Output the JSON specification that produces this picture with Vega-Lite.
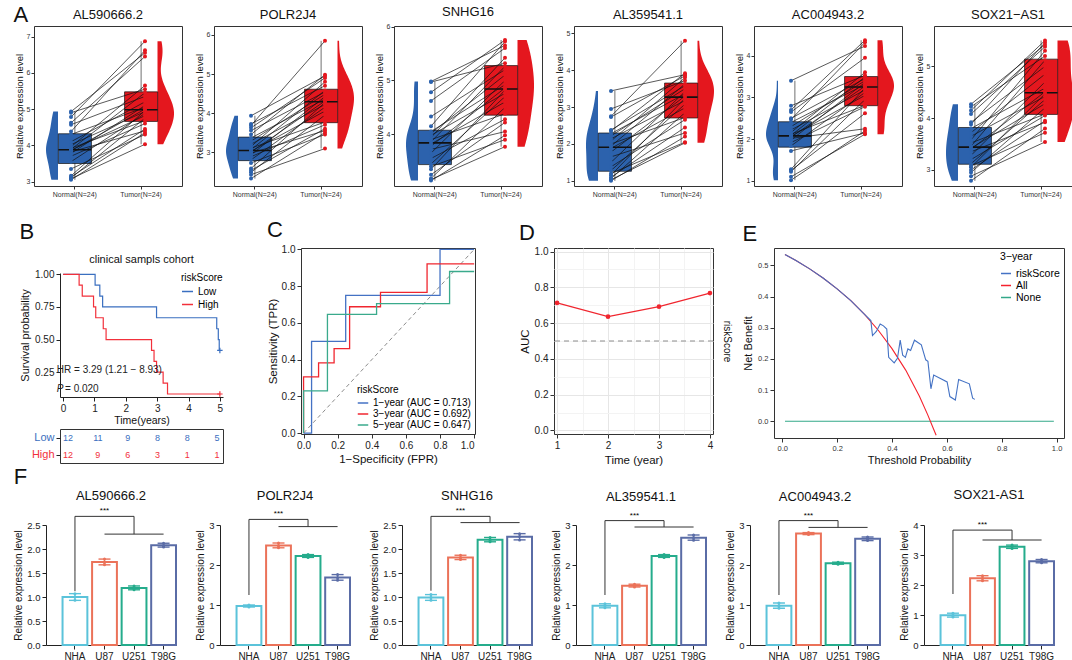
{
"$schema":"https://vega.github.io/schema/vega-lite/v6.json",
"padding":{"left":6,"top":4,"right":2,"bottom":2},
"background":"white",
"config":{"font":"Liberation Sans","view":{"stroke":"#333","strokeWidth":1},
"axis":{"grid":false,"domain":false,"labelOverlap":false,"tickColor":"#333","labelColor":"#333","titleColor":"#111","titleFontWeight":"normal","labelFont":"Liberation Sans","titleFont":"Liberation Sans"},
"title":{"fontWeight":"normal","fontSize":13,"font":"Liberation Sans","color":"#111","offset":4},
"legend":{"titleFontWeight":"normal","labelFont":"Liberation Sans","titleFont":"Liberation Sans"},
"text":{"font":"Liberation Sans"}},
"datasets":{
"pairs":[
{"g":"AL590666.2","id":1,"Normal":3.05,"Tumor":4.35},{"g":"AL590666.2","id":2,"Normal":3.08,"Tumor":4.03},{"g":"AL590666.2","id":3,"Normal":3.10,"Tumor":4.75},{"g":"AL590666.2","id":4,"Normal":3.13,"Tumor":4.45},{"g":"AL590666.2","id":5,"Normal":3.16,"Tumor":4.96},{"g":"AL590666.2","id":6,"Normal":3.35,"Tumor":4.30},{"g":"AL590666.2","id":7,"Normal":3.55,"Tumor":4.88},{"g":"AL590666.2","id":8,"Normal":3.70,"Tumor":4.60},{"g":"AL590666.2","id":9,"Normal":3.78,"Tumor":5.10},{"g":"AL590666.2","id":10,"Normal":3.82,"Tumor":4.40},{"g":"AL590666.2","id":11,"Normal":3.85,"Tumor":5.00},{"g":"AL590666.2","id":12,"Normal":3.87,"Tumor":4.82},{"g":"AL590666.2","id":13,"Normal":3.89,"Tumor":5.45},{"g":"AL590666.2","id":14,"Normal":3.92,"Tumor":4.68},{"g":"AL590666.2","id":15,"Normal":3.96,"Tumor":5.65},{"g":"AL590666.2","id":16,"Normal":4.02,"Tumor":4.93},{"g":"AL590666.2","id":17,"Normal":4.10,"Tumor":5.20},{"g":"AL590666.2","id":18,"Normal":4.30,"Tumor":5.05},{"g":"AL590666.2","id":19,"Normal":4.38,"Tumor":6.62},{"g":"AL590666.2","id":20,"Normal":4.57,"Tumor":5.35},{"g":"AL590666.2","id":21,"Normal":4.62,"Tumor":6.45},{"g":"AL590666.2","id":22,"Normal":4.78,"Tumor":6.87},{"g":"AL590666.2","id":23,"Normal":4.90,"Tumor":5.55},{"g":"AL590666.2","id":24,"Normal":4.93,"Tumor":6.55},
{"g":"POLR2J4","id":1,"Normal":2.32,"Tumor":3.50},{"g":"POLR2J4","id":2,"Normal":2.42,"Tumor":3.09},{"g":"POLR2J4","id":3,"Normal":2.48,"Tumor":3.95},{"g":"POLR2J4","id":4,"Normal":2.53,"Tumor":3.60},{"g":"POLR2J4","id":5,"Normal":2.58,"Tumor":4.27},{"g":"POLR2J4","id":6,"Normal":2.72,"Tumor":3.45},{"g":"POLR2J4","id":7,"Normal":2.80,"Tumor":4.15},{"g":"POLR2J4","id":8,"Normal":2.88,"Tumor":3.70},{"g":"POLR2J4","id":9,"Normal":2.93,"Tumor":4.42},{"g":"POLR2J4","id":10,"Normal":2.97,"Tumor":3.55},{"g":"POLR2J4","id":11,"Normal":3.00,"Tumor":4.31},{"g":"POLR2J4","id":12,"Normal":3.02,"Tumor":4.05},{"g":"POLR2J4","id":13,"Normal":3.06,"Tumor":4.58},{"g":"POLR2J4","id":14,"Normal":3.10,"Tumor":3.77},{"g":"POLR2J4","id":15,"Normal":3.14,"Tumor":4.80},{"g":"POLR2J4","id":16,"Normal":3.20,"Tumor":4.22},{"g":"POLR2J4","id":17,"Normal":3.28,"Tumor":4.48},{"g":"POLR2J4","id":18,"Normal":3.36,"Tumor":4.36},{"g":"POLR2J4","id":19,"Normal":3.45,"Tumor":4.98},{"g":"POLR2J4","id":20,"Normal":3.55,"Tumor":4.54},{"g":"POLR2J4","id":21,"Normal":3.62,"Tumor":4.90},{"g":"POLR2J4","id":22,"Normal":3.68,"Tumor":5.85},{"g":"POLR2J4","id":23,"Normal":3.72,"Tumor":4.70},{"g":"POLR2J4","id":24,"Normal":3.93,"Tumor":4.95},
{"g":"SNHG16","id":1,"Normal":3.14,"Tumor":3.98},{"g":"SNHG16","id":2,"Normal":3.16,"Tumor":3.77},{"g":"SNHG16","id":3,"Normal":3.18,"Tumor":4.50},{"g":"SNHG16","id":4,"Normal":3.25,"Tumor":4.22},{"g":"SNHG16","id":5,"Normal":3.35,"Tumor":4.82},{"g":"SNHG16","id":6,"Normal":3.40,"Tumor":3.90},{"g":"SNHG16","id":7,"Normal":3.45,"Tumor":4.70},{"g":"SNHG16","id":8,"Normal":3.55,"Tumor":4.28},{"g":"SNHG16","id":9,"Normal":3.65,"Tumor":5.00},{"g":"SNHG16","id":10,"Normal":3.72,"Tumor":4.05},{"g":"SNHG16","id":11,"Normal":3.78,"Tumor":4.86},{"g":"SNHG16","id":12,"Normal":3.82,"Tumor":4.60},{"g":"SNHG16","id":13,"Normal":3.86,"Tumor":5.26},{"g":"SNHG16","id":14,"Normal":3.90,"Tumor":4.38},{"g":"SNHG16","id":15,"Normal":3.94,"Tumor":5.42},{"g":"SNHG16","id":16,"Normal":3.98,"Tumor":4.76},{"g":"SNHG16","id":17,"Normal":4.02,"Tumor":5.10},{"g":"SNHG16","id":18,"Normal":4.05,"Tumor":4.92},{"g":"SNHG16","id":19,"Normal":4.15,"Tumor":5.72},{"g":"SNHG16","id":20,"Normal":4.33,"Tumor":5.20},{"g":"SNHG16","id":21,"Normal":4.62,"Tumor":5.60},{"g":"SNHG16","id":22,"Normal":4.78,"Tumor":5.75},{"g":"SNHG16","id":23,"Normal":4.97,"Tumor":5.32},{"g":"SNHG16","id":24,"Normal":4.98,"Tumor":5.65},
{"g":"AL359541.1","id":1,"Normal":1.00,"Tumor":2.20},{"g":"AL359541.1","id":2,"Normal":1.03,"Tumor":2.03},{"g":"AL359541.1","id":3,"Normal":1.06,"Tumor":2.85},{"g":"AL359541.1","id":4,"Normal":1.10,"Tumor":2.45},{"g":"AL359541.1","id":5,"Normal":1.15,"Tumor":3.24},{"g":"AL359541.1","id":6,"Normal":1.20,"Tumor":2.05},{"g":"AL359541.1","id":7,"Normal":1.28,"Tumor":3.08},{"g":"AL359541.1","id":8,"Normal":1.38,"Tumor":2.66},{"g":"AL359541.1","id":9,"Normal":1.50,"Tumor":3.42},{"g":"AL359541.1","id":10,"Normal":1.65,"Tumor":2.30},{"g":"AL359541.1","id":11,"Normal":1.78,"Tumor":3.30},{"g":"AL359541.1","id":12,"Normal":1.88,"Tumor":2.98},{"g":"AL359541.1","id":13,"Normal":1.94,"Tumor":3.63},{"g":"AL359541.1","id":14,"Normal":2.00,"Tumor":2.72},{"g":"AL359541.1","id":15,"Normal":2.08,"Tumor":3.80},{"g":"AL359541.1","id":16,"Normal":2.14,"Tumor":3.18},{"g":"AL359541.1","id":17,"Normal":2.22,"Tumor":3.50},{"g":"AL359541.1","id":18,"Normal":2.28,"Tumor":3.36},{"g":"AL359541.1","id":19,"Normal":2.35,"Tumor":3.92},{"g":"AL359541.1","id":20,"Normal":2.38,"Tumor":3.58},{"g":"AL359541.1","id":21,"Normal":2.73,"Tumor":3.85},{"g":"AL359541.1","id":22,"Normal":2.75,"Tumor":4.80},{"g":"AL359541.1","id":23,"Normal":2.95,"Tumor":3.72},{"g":"AL359541.1","id":24,"Normal":3.44,"Tumor":3.88},
{"g":"AC004943.2","id":1,"Normal":1.02,"Tumor":2.20},{"g":"AC004943.2","id":2,"Normal":1.10,"Tumor":2.12},{"g":"AC004943.2","id":3,"Normal":1.22,"Tumor":2.95},{"g":"AC004943.2","id":4,"Normal":1.25,"Tumor":2.62},{"g":"AC004943.2","id":5,"Normal":1.28,"Tumor":3.23},{"g":"AC004943.2","id":6,"Normal":1.72,"Tumor":2.15},{"g":"AC004943.2","id":7,"Normal":1.84,"Tumor":3.12},{"g":"AC004943.2","id":8,"Normal":1.92,"Tumor":2.78},{"g":"AC004943.2","id":9,"Normal":1.98,"Tumor":3.36},{"g":"AC004943.2","id":10,"Normal":2.02,"Tumor":2.25},{"g":"AC004943.2","id":11,"Normal":2.05,"Tumor":3.27},{"g":"AC004943.2","id":12,"Normal":2.07,"Tumor":3.05},{"g":"AC004943.2","id":13,"Normal":2.09,"Tumor":3.49},{"g":"AC004943.2","id":14,"Normal":2.12,"Tumor":2.81},{"g":"AC004943.2","id":15,"Normal":2.16,"Tumor":3.60},{"g":"AC004943.2","id":16,"Normal":2.22,"Tumor":3.18},{"g":"AC004943.2","id":17,"Normal":2.30,"Tumor":3.40},{"g":"AC004943.2","id":18,"Normal":2.40,"Tumor":3.31},{"g":"AC004943.2","id":19,"Normal":2.47,"Tumor":4.32},{"g":"AC004943.2","id":20,"Normal":2.50,"Tumor":3.45},{"g":"AC004943.2","id":21,"Normal":2.65,"Tumor":3.95},{"g":"AC004943.2","id":22,"Normal":2.70,"Tumor":4.37},{"g":"AC004943.2","id":23,"Normal":2.80,"Tumor":3.53},{"g":"AC004943.2","id":24,"Normal":3.40,"Tumor":4.23},
{"g":"SOX21-AS1","id":1,"Normal":2.79,"Tumor":3.80},{"g":"SOX21-AS1","id":2,"Normal":2.88,"Tumor":3.54},{"g":"SOX21-AS1","id":3,"Normal":2.95,"Tumor":4.20},{"g":"SOX21-AS1","id":4,"Normal":3.00,"Tumor":3.95},{"g":"SOX21-AS1","id":5,"Normal":3.05,"Tumor":4.47},{"g":"SOX21-AS1","id":6,"Normal":3.08,"Tumor":3.72},{"g":"SOX21-AS1","id":7,"Normal":3.12,"Tumor":4.36},{"g":"SOX21-AS1","id":8,"Normal":3.20,"Tumor":4.05},{"g":"SOX21-AS1","id":9,"Normal":3.28,"Tumor":4.70},{"g":"SOX21-AS1","id":10,"Normal":3.35,"Tumor":3.92},{"g":"SOX21-AS1","id":11,"Normal":3.40,"Tumor":4.51},{"g":"SOX21-AS1","id":12,"Normal":3.42,"Tumor":4.28},{"g":"SOX21-AS1","id":13,"Normal":3.46,"Tumor":5.12},{"g":"SOX21-AS1","id":14,"Normal":3.52,"Tumor":4.08},{"g":"SOX21-AS1","id":15,"Normal":3.58,"Tumor":5.30},{"g":"SOX21-AS1","id":16,"Normal":3.65,"Tumor":4.42},{"g":"SOX21-AS1","id":17,"Normal":3.72,"Tumor":4.85},{"g":"SOX21-AS1","id":18,"Normal":3.80,"Tumor":4.58},{"g":"SOX21-AS1","id":19,"Normal":3.88,"Tumor":5.46},{"g":"SOX21-AS1","id":20,"Normal":3.92,"Tumor":5.00},{"g":"SOX21-AS1","id":21,"Normal":4.08,"Tumor":5.38},{"g":"SOX21-AS1","id":22,"Normal":4.15,"Tumor":5.50},{"g":"SOX21-AS1","id":23,"Normal":4.22,"Tumor":5.20},{"g":"SOX21-AS1","id":24,"Normal":4.27,"Tumor":5.42}
],
"km":[
{"risk":"Low","t":0,"s":1},{"risk":"Low","t":1.02,"s":0.917},{"risk":"Low","t":1.17,"s":0.833},{"risk":"Low","t":1.26,"s":0.75},{"risk":"Low","t":2.98,"s":0.667},{"risk":"Low","t":4.9,"s":0.583},{"risk":"Low","t":4.95,"s":0.5},{"risk":"Low","t":4.98,"s":0.417},{"risk":"Low","t":5.0,"s":0.417},
{"risk":"High","t":0,"s":1},{"risk":"High","t":0.51,"s":0.917},{"risk":"High","t":0.61,"s":0.833},{"risk":"High","t":0.97,"s":0.75},{"risk":"High","t":1.04,"s":0.667},{"risk":"High","t":1.28,"s":0.583},{"risk":"High","t":1.37,"s":0.5},{"risk":"High","t":2.82,"s":0.417},{"risk":"High","t":2.9,"s":0.333},{"risk":"High","t":2.98,"s":0.25},{"risk":"High","t":3.19,"s":0.167},{"risk":"High","t":3.33,"s":0.083},{"risk":"High","t":5.0,"s":0.083}
],
"kmc":[{"risk":"Low","t":5.0,"s":0.417},{"risk":"High","t":5.0,"s":0.083}],
"risk":[
{"risk":"Low","t":0,"n":12},{"risk":"Low","t":1,"n":11},{"risk":"Low","t":2,"n":9},{"risk":"Low","t":3,"n":8},{"risk":"Low","t":4,"n":8},{"risk":"Low","t":5,"n":5},
{"risk":"High","t":0,"n":12},{"risk":"High","t":1,"n":9},{"risk":"High","t":2,"n":6},{"risk":"High","t":3,"n":3},{"risk":"High","t":4,"n":1},{"risk":"High","t":5,"n":1}
],
"roc":[
{"curve":"1−year (AUC = 0.713)","k":0,"fpr":0,"tpr":0},{"curve":"1−year (AUC = 0.713)","k":1,"fpr":0.047,"tpr":0},{"curve":"1−year (AUC = 0.713)","k":2,"fpr":0.047,"tpr":0.5},{"curve":"1−year (AUC = 0.713)","k":3,"fpr":0.247,"tpr":0.5},{"curve":"1−year (AUC = 0.713)","k":4,"fpr":0.247,"tpr":0.75},{"curve":"1−year (AUC = 0.713)","k":5,"fpr":0.8,"tpr":0.75},{"curve":"1−year (AUC = 0.713)","k":6,"fpr":0.8,"tpr":1},{"curve":"1−year (AUC = 0.713)","k":7,"fpr":1,"tpr":1},
{"curve":"3−year (AUC = 0.692)","k":0,"fpr":0,"tpr":0},{"curve":"3−year (AUC = 0.692)","k":1,"fpr":0,"tpr":0.306},{"curve":"3−year (AUC = 0.692)","k":2,"fpr":0.088,"tpr":0.306},{"curve":"3−year (AUC = 0.692)","k":3,"fpr":0.088,"tpr":0.382},{"curve":"3−year (AUC = 0.692)","k":4,"fpr":0.179,"tpr":0.382},{"curve":"3−year (AUC = 0.692)","k":5,"fpr":0.179,"tpr":0.46},{"curve":"3−year (AUC = 0.692)","k":6,"fpr":0.27,"tpr":0.46},{"curve":"3−year (AUC = 0.692)","k":7,"fpr":0.27,"tpr":0.688},{"curve":"3−year (AUC = 0.692)","k":8,"fpr":0.451,"tpr":0.688},{"curve":"3−year (AUC = 0.692)","k":9,"fpr":0.451,"tpr":0.766},{"curve":"3−year (AUC = 0.692)","k":10,"fpr":0.724,"tpr":0.766},{"curve":"3−year (AUC = 0.692)","k":11,"fpr":0.724,"tpr":0.922},{"curve":"3−year (AUC = 0.692)","k":12,"fpr":1,"tpr":0.922},
{"curve":"5−year (AUC = 0.647)","k":0,"fpr":0,"tpr":0},{"curve":"5−year (AUC = 0.647)","k":1,"fpr":0,"tpr":0.23},{"curve":"5−year (AUC = 0.647)","k":2,"fpr":0.14,"tpr":0.23},{"curve":"5−year (AUC = 0.647)","k":3,"fpr":0.14,"tpr":0.647},{"curve":"5−year (AUC = 0.647)","k":4,"fpr":0.428,"tpr":0.647},{"curve":"5−year (AUC = 0.647)","k":5,"fpr":0.428,"tpr":0.705},{"curve":"5−year (AUC = 0.647)","k":6,"fpr":0.856,"tpr":0.705},{"curve":"5−year (AUC = 0.647)","k":7,"fpr":0.856,"tpr":0.88},{"curve":"5−year (AUC = 0.647)","k":8,"fpr":1,"tpr":0.88}
],
"auc":[{"t":1,"auc":0.713},{"t":2,"auc":0.636},{"t":3,"auc":0.692},{"t":4,"auc":0.768}],
"dca":[
{"model":"None","x":0.01,"y":0},{"model":"None","x":0.99,"y":0},
{"model":"All","x":0.01,"y":0.535},{"model":"All","x":0.05,"y":0.516},{"model":"All","x":0.10,"y":0.489},{"model":"All","x":0.15,"y":0.459},{"model":"All","x":0.20,"y":0.425},{"model":"All","x":0.25,"y":0.387},{"model":"All","x":0.30,"y":0.343},{"model":"All","x":0.35,"y":0.292},{"model":"All","x":0.40,"y":0.233},{"model":"All","x":0.45,"y":0.164},{"model":"All","x":0.50,"y":0.080},{"model":"All","x":0.53,"y":0.021},{"model":"All","x":0.55,"y":-0.022},{"model":"All","x":0.561,"y":-0.045},
{"model":"riskScore","x":0.01,"y":0.535},{"model":"riskScore","x":0.05,"y":0.516},{"model":"riskScore","x":0.10,"y":0.489},{"model":"riskScore","x":0.15,"y":0.459},{"model":"riskScore","x":0.20,"y":0.425},{"model":"riskScore","x":0.25,"y":0.387},{"model":"riskScore","x":0.30,"y":0.343},{"model":"riskScore","x":0.323,"y":0.323},{"model":"riskScore","x":0.329,"y":0.275},{"model":"riskScore","x":0.343,"y":0.288},{"model":"riskScore","x":0.357,"y":0.312},{"model":"riskScore","x":0.369,"y":0.306},{"model":"riskScore","x":0.381,"y":0.296},{"model":"riskScore","x":0.388,"y":0.205},{"model":"riskScore","x":0.408,"y":0.187},{"model":"riskScore","x":0.42,"y":0.202},{"model":"riskScore","x":0.43,"y":0.26},{"model":"riskScore","x":0.439,"y":0.212},{"model":"riskScore","x":0.449,"y":0.205},{"model":"riskScore","x":0.458,"y":0.232},{"model":"riskScore","x":0.468,"y":0.227},{"model":"riskScore","x":0.482,"y":0.26},{"model":"riskScore","x":0.507,"y":0.245},{"model":"riskScore","x":0.523,"y":0.197},{"model":"riskScore","x":0.531,"y":0.192},{"model":"riskScore","x":0.542,"y":0.104},{"model":"riskScore","x":0.552,"y":0.148},{"model":"riskScore","x":0.601,"y":0.126},{"model":"riskScore","x":0.611,"y":0.079},{"model":"riskScore","x":0.631,"y":0.068},{"model":"riskScore","x":0.643,"y":0.134},{"model":"riskScore","x":0.682,"y":0.12},{"model":"riskScore","x":0.694,"y":0.074},{"model":"riskScore","x":0.702,"y":0.07}
],
"cells":[
{"g":"AL590666.2","cell":"NHA","v":0.93},{"g":"AL590666.2","cell":"NHA","v":1.00},{"g":"AL590666.2","cell":"NHA","v":1.07},{"g":"AL590666.2","cell":"U87","v":1.67},{"g":"AL590666.2","cell":"U87","v":1.72},{"g":"AL590666.2","cell":"U87","v":1.79},{"g":"AL590666.2","cell":"U251","v":1.15},{"g":"AL590666.2","cell":"U251","v":1.18},{"g":"AL590666.2","cell":"U251","v":1.23},{"g":"AL590666.2","cell":"T98G","v":2.04},{"g":"AL590666.2","cell":"T98G","v":2.07},{"g":"AL590666.2","cell":"T98G","v":2.12},
{"g":"POLR2J4","cell":"NHA","v":0.95},{"g":"POLR2J4","cell":"NHA","v":0.98},{"g":"POLR2J4","cell":"NHA","v":1.00},{"g":"POLR2J4","cell":"U87","v":2.43},{"g":"POLR2J4","cell":"U87","v":2.48},{"g":"POLR2J4","cell":"U87","v":2.55},{"g":"POLR2J4","cell":"U251","v":2.19},{"g":"POLR2J4","cell":"U251","v":2.23},{"g":"POLR2J4","cell":"U251","v":2.26},{"g":"POLR2J4","cell":"T98G","v":1.62},{"g":"POLR2J4","cell":"T98G","v":1.68},{"g":"POLR2J4","cell":"T98G","v":1.76},
{"g":"SNHG16","cell":"NHA","v":0.93},{"g":"SNHG16","cell":"NHA","v":0.99},{"g":"SNHG16","cell":"NHA","v":1.05},{"g":"SNHG16","cell":"U87","v":1.78},{"g":"SNHG16","cell":"U87","v":1.82},{"g":"SNHG16","cell":"U87","v":1.87},{"g":"SNHG16","cell":"U251","v":2.15},{"g":"SNHG16","cell":"U251","v":2.19},{"g":"SNHG16","cell":"U251","v":2.24},{"g":"SNHG16","cell":"T98G","v":2.19},{"g":"SNHG16","cell":"T98G","v":2.26},{"g":"SNHG16","cell":"T98G","v":2.32},
{"g":"AL359541.1","cell":"NHA","v":0.93},{"g":"AL359541.1","cell":"NHA","v":0.98},{"g":"AL359541.1","cell":"NHA","v":1.03},{"g":"AL359541.1","cell":"U87","v":1.45},{"g":"AL359541.1","cell":"U87","v":1.48},{"g":"AL359541.1","cell":"U87","v":1.52},{"g":"AL359541.1","cell":"U251","v":2.19},{"g":"AL359541.1","cell":"U251","v":2.22},{"g":"AL359541.1","cell":"U251","v":2.26},{"g":"AL359541.1","cell":"T98G","v":2.62},{"g":"AL359541.1","cell":"T98G","v":2.68},{"g":"AL359541.1","cell":"T98G","v":2.75},
{"g":"AC004943.2","cell":"NHA","v":0.92},{"g":"AC004943.2","cell":"NHA","v":0.98},{"g":"AC004943.2","cell":"NHA","v":1.05},{"g":"AC004943.2","cell":"U87","v":2.76},{"g":"AC004943.2","cell":"U87","v":2.79},{"g":"AC004943.2","cell":"U87","v":2.81},{"g":"AC004943.2","cell":"U251","v":2.02},{"g":"AC004943.2","cell":"U251","v":2.04},{"g":"AC004943.2","cell":"U251","v":2.07},{"g":"AC004943.2","cell":"T98G","v":2.61},{"g":"AC004943.2","cell":"T98G","v":2.65},{"g":"AC004943.2","cell":"T98G","v":2.70},
{"g":"SOX21-AS1","cell":"NHA","v":0.93},{"g":"SOX21-AS1","cell":"NHA","v":0.98},{"g":"SOX21-AS1","cell":"NHA","v":1.06},{"g":"SOX21-AS1","cell":"U87","v":2.14},{"g":"SOX21-AS1","cell":"U87","v":2.22},{"g":"SOX21-AS1","cell":"U87","v":2.31},{"g":"SOX21-AS1","cell":"U251","v":3.22},{"g":"SOX21-AS1","cell":"U251","v":3.28},{"g":"SOX21-AS1","cell":"U251","v":3.33},{"g":"SOX21-AS1","cell":"T98G","v":2.74},{"g":"SOX21-AS1","cell":"T98G","v":2.79},{"g":"SOX21-AS1","cell":"T98G","v":2.85}
]
},
"spacing":20,
"resolve":{"scale":{"color":"independent","stroke":"independent"}},
"vconcat":[
{"spacing":0,
"hconcat":[
{"width":1,"height":1,"data":{"values":[{}]},"mark":{"type":"point","opacity":0},"view":{"stroke":null}},
{"title":{"text":"A","anchor":"start","fontSize":22,"offset":-22},
"spacing":10,
"hconcat":[
{"width":148,"height":160,"title":{"text":"AL590666.2"},"data":{"name":"pairs"},
"transform":[{"filter":{"field":"g","equal":"AL590666.2"}},{"fold":["Normal","Tumor"],"as":["grp","value"]}],
"encoding":{"y":{"field":"value","type":"quantitative","scale":{"domain":[2.88,7.29],"nice":false,"zero":false},"axis":{"title":"Relative expression level","values":[3,4,5,6,7],"labelFontSize":7,"titleFontSize":9.5,"titlePadding":2,"labelPadding":1,"tickSize":3}}},
"layer":[
{"transform":[{"filter":{"field":"grp","equal":"Normal"}},{"density":"value","as":["value","density"]}],"mark":{"type":"area","orient":"horizontal","color":"#2C62AD"},"encoding":{"x":{"field":"density","type":"quantitative","stack":null,"scale":{"range":[24,12],"zero":true,"nice":false},"axis":null}}},
{"transform":[{"filter":{"field":"grp","equal":"Tumor"}},{"density":"value","as":["value","density"]}],"mark":{"type":"area","orient":"horizontal","color":"#E4171E"},"encoding":{"x":{"field":"density","type":"quantitative","stack":null,"scale":{"range":[123.5,140],"zero":true,"nice":false},"axis":null}}},
{"mark":{"type":"rule","color":"#111","strokeWidth":0.6},"encoding":{"x":{"field":"grp","type":"nominal","scale":{"domain":["Normal","Tumor"],"paddingInner":0.5,"paddingOuter":0.367},"axis":null},"y":{"aggregate":"min","field":"value","type":"quantitative"},"y2":{"aggregate":"max","field":"value"}}},
{"mark":{"type":"bar","stroke":"#111","strokeWidth":0.7},"encoding":{"x":{"field":"grp","type":"nominal","scale":{"domain":["Normal","Tumor"],"paddingInner":0.5,"paddingOuter":0.367},"axis":{"title":null,"labelExpr":"datum.label + '(N=24)'","labelAngle":0,"labelFontSize":7,"tickSize":3,"labelPadding":1}},"y":{"aggregate":"q1","field":"value","type":"quantitative"},"y2":{"aggregate":"q3","field":"value"},"color":{"field":"grp","type":"nominal","scale":{"domain":["Normal","Tumor"],"range":["#2C62AD","#E4171E"]},"legend":null}}},
{"mark":{"type":"tick","color":"#111","thickness":1.6,"size":33},"encoding":{"x":{"field":"grp","type":"nominal","scale":{"domain":["Normal","Tumor"],"paddingInner":0.5,"paddingOuter":0.367},"axis":null},"y":{"aggregate":"median","field":"value","type":"quantitative"}}},
{"mark":{"type":"line","color":"#111","strokeWidth":0.7},"encoding":{"x":{"field":"grp","type":"nominal","scale":{"domain":["Normal","Tumor"],"paddingInner":0.5,"paddingOuter":0.367},"axis":null},"detail":{"field":"id","type":"nominal"}}},
{"mark":{"type":"circle","size":16,"opacity":1},"encoding":{"x":{"field":"grp","type":"nominal","scale":{"domain":["Normal","Tumor"],"paddingInner":0.5,"paddingOuter":0.367},"axis":null},"color":{"field":"grp","type":"nominal","scale":{"domain":["Normal","Tumor"],"range":["#2C62AD","#E4171E"]},"legend":null}}},
{"data":{"values":[{}]},"mark":{"type":"rule","color":"#111","strokeWidth":0.6},"encoding":{"x":{"datum":"Normal","type":"nominal","scale":{"domain":["Normal","Tumor"],"paddingInner":0.5,"paddingOuter":0.367},"axis":null},"x2":{"datum":"Tumor"},"y":{"datum":7.0,"type":"quantitative"}}},
{"data":{"values":[{"k":"Normal"},{"k":"Tumor"}]},"mark":{"type":"rule","color":"#111","strokeWidth":0.6},"encoding":{"x":{"field":"k","type":"nominal","scale":{"domain":["Normal","Tumor"],"paddingInner":0.5,"paddingOuter":0.367},"axis":null},"y":{"datum":7.0,"type":"quantitative"},"y2":{"datum":6.93}}},
{"data":{"values":[{}]},"mark":{"type":"text","text":"***","fontSize":8,"baseline":"bottom"},"encoding":{"x":{"datum":0.5,"type":"quantitative","scale":{"domain":[0,1]},"axis":null},"y":{"datum":7.0,"type":"quantitative"}}}
],
"resolve":{"scale":{"x":"independent"}}},
{"width":148,"height":160,"title":{"text":"POLR2J4"},"data":{"name":"pairs"},
"transform":[{"filter":{"field":"g","equal":"POLR2J4"}},{"fold":["Normal","Tumor"],"as":["grp","value"]}],
"encoding":{"y":{"field":"value","type":"quantitative","scale":{"domain":[2.13,6.23],"nice":false,"zero":false},"axis":{"title":"Relative expression level","values":[3,4,5,6],"labelFontSize":7,"titleFontSize":9.5,"titlePadding":2,"labelPadding":1,"tickSize":3}}},
"layer":[
{"transform":[{"filter":{"field":"grp","equal":"Normal"}},{"density":"value","as":["value","density"]}],"mark":{"type":"area","orient":"horizontal","color":"#2C62AD"},"encoding":{"x":{"field":"density","type":"quantitative","stack":null,"scale":{"range":[24,12],"zero":true,"nice":false},"axis":null}}},
{"transform":[{"filter":{"field":"grp","equal":"Tumor"}},{"density":"value","as":["value","density"]}],"mark":{"type":"area","orient":"horizontal","color":"#E4171E"},"encoding":{"x":{"field":"density","type":"quantitative","stack":null,"scale":{"range":[123.5,140],"zero":true,"nice":false},"axis":null}}},
{"mark":{"type":"rule","color":"#111","strokeWidth":0.6},"encoding":{"x":{"field":"grp","type":"nominal","scale":{"domain":["Normal","Tumor"],"paddingInner":0.5,"paddingOuter":0.367},"axis":null},"y":{"aggregate":"min","field":"value","type":"quantitative"},"y2":{"aggregate":"max","field":"value"}}},
{"mark":{"type":"bar","stroke":"#111","strokeWidth":0.7},"encoding":{"x":{"field":"grp","type":"nominal","scale":{"domain":["Normal","Tumor"],"paddingInner":0.5,"paddingOuter":0.367},"axis":{"title":null,"labelExpr":"datum.label + '(N=24)'","labelAngle":0,"labelFontSize":7,"tickSize":3,"labelPadding":1}},"y":{"aggregate":"q1","field":"value","type":"quantitative"},"y2":{"aggregate":"q3","field":"value"},"color":{"field":"grp","type":"nominal","scale":{"domain":["Normal","Tumor"],"range":["#2C62AD","#E4171E"]},"legend":null}}},
{"mark":{"type":"tick","color":"#111","thickness":1.6,"size":33},"encoding":{"x":{"field":"grp","type":"nominal","scale":{"domain":["Normal","Tumor"],"paddingInner":0.5,"paddingOuter":0.367},"axis":null},"y":{"aggregate":"median","field":"value","type":"quantitative"}}},
{"mark":{"type":"line","color":"#111","strokeWidth":0.7},"encoding":{"x":{"field":"grp","type":"nominal","scale":{"domain":["Normal","Tumor"],"paddingInner":0.5,"paddingOuter":0.367},"axis":null},"detail":{"field":"id","type":"nominal"}}},
{"mark":{"type":"circle","size":16,"opacity":1},"encoding":{"x":{"field":"grp","type":"nominal","scale":{"domain":["Normal","Tumor"],"paddingInner":0.5,"paddingOuter":0.367},"axis":null},"color":{"field":"grp","type":"nominal","scale":{"domain":["Normal","Tumor"],"range":["#2C62AD","#E4171E"]},"legend":null}}},
{"data":{"values":[{}]},"mark":{"type":"rule","color":"#111","strokeWidth":0.6},"encoding":{"x":{"datum":"Normal","type":"nominal","scale":{"domain":["Normal","Tumor"],"paddingInner":0.5,"paddingOuter":0.367},"axis":null},"x2":{"datum":"Tumor"},"y":{"datum":5.96,"type":"quantitative"}}},
{"data":{"values":[{"k":"Normal"},{"k":"Tumor"}]},"mark":{"type":"rule","color":"#111","strokeWidth":0.6},"encoding":{"x":{"field":"k","type":"nominal","scale":{"domain":["Normal","Tumor"],"paddingInner":0.5,"paddingOuter":0.367},"axis":null},"y":{"datum":5.96,"type":"quantitative"},"y2":{"datum":5.90}}},
{"data":{"values":[{}]},"mark":{"type":"text","text":"***","fontSize":8,"baseline":"bottom"},"encoding":{"x":{"datum":0.5,"type":"quantitative","scale":{"domain":[0,1]},"axis":null},"y":{"datum":5.96,"type":"quantitative"}}}
],
"resolve":{"scale":{"x":"independent"}}},
{"width":148,"height":160,"title":{"text":"SNHG16"},"data":{"name":"pairs"},
"transform":[{"filter":{"field":"g","equal":"SNHG16"}},{"fold":["Normal","Tumor"],"as":["grp","value"]}],
"encoding":{"y":{"field":"value","type":"quantitative","scale":{"domain":[3.04,6.01],"nice":false,"zero":false},"axis":{"title":"Relative expression level","values":[4,5,6],"labelFontSize":7,"titleFontSize":9.5,"titlePadding":2,"labelPadding":1,"tickSize":3}}},
"layer":[
{"transform":[{"filter":{"field":"grp","equal":"Normal"}},{"density":"value","as":["value","density"]}],"mark":{"type":"area","orient":"horizontal","color":"#2C62AD"},"encoding":{"x":{"field":"density","type":"quantitative","stack":null,"scale":{"range":[24,12],"zero":true,"nice":false},"axis":null}}},
{"transform":[{"filter":{"field":"grp","equal":"Tumor"}},{"density":"value","as":["value","density"]}],"mark":{"type":"area","orient":"horizontal","color":"#E4171E"},"encoding":{"x":{"field":"density","type":"quantitative","stack":null,"scale":{"range":[123.5,140],"zero":true,"nice":false},"axis":null}}},
{"mark":{"type":"rule","color":"#111","strokeWidth":0.6},"encoding":{"x":{"field":"grp","type":"nominal","scale":{"domain":["Normal","Tumor"],"paddingInner":0.5,"paddingOuter":0.367},"axis":null},"y":{"aggregate":"min","field":"value","type":"quantitative"},"y2":{"aggregate":"max","field":"value"}}},
{"mark":{"type":"bar","stroke":"#111","strokeWidth":0.7},"encoding":{"x":{"field":"grp","type":"nominal","scale":{"domain":["Normal","Tumor"],"paddingInner":0.5,"paddingOuter":0.367},"axis":{"title":null,"labelExpr":"datum.label + '(N=24)'","labelAngle":0,"labelFontSize":7,"tickSize":3,"labelPadding":1}},"y":{"aggregate":"q1","field":"value","type":"quantitative"},"y2":{"aggregate":"q3","field":"value"},"color":{"field":"grp","type":"nominal","scale":{"domain":["Normal","Tumor"],"range":["#2C62AD","#E4171E"]},"legend":null}}},
{"mark":{"type":"tick","color":"#111","thickness":1.6,"size":33},"encoding":{"x":{"field":"grp","type":"nominal","scale":{"domain":["Normal","Tumor"],"paddingInner":0.5,"paddingOuter":0.367},"axis":null},"y":{"aggregate":"median","field":"value","type":"quantitative"}}},
{"mark":{"type":"line","color":"#111","strokeWidth":0.7},"encoding":{"x":{"field":"grp","type":"nominal","scale":{"domain":["Normal","Tumor"],"paddingInner":0.5,"paddingOuter":0.367},"axis":null},"detail":{"field":"id","type":"nominal"}}},
{"mark":{"type":"circle","size":16,"opacity":1},"encoding":{"x":{"field":"grp","type":"nominal","scale":{"domain":["Normal","Tumor"],"paddingInner":0.5,"paddingOuter":0.367},"axis":null},"color":{"field":"grp","type":"nominal","scale":{"domain":["Normal","Tumor"],"range":["#2C62AD","#E4171E"]},"legend":null}}},
{"data":{"values":[{}]},"mark":{"type":"rule","color":"#111","strokeWidth":0.6},"encoding":{"x":{"datum":"Normal","type":"nominal","scale":{"domain":["Normal","Tumor"],"paddingInner":0.5,"paddingOuter":0.367},"axis":null},"x2":{"datum":"Tumor"},"y":{"datum":5.81,"type":"quantitative"}}},
{"data":{"values":[{"k":"Normal"},{"k":"Tumor"}]},"mark":{"type":"rule","color":"#111","strokeWidth":0.6},"encoding":{"x":{"field":"k","type":"nominal","scale":{"domain":["Normal","Tumor"],"paddingInner":0.5,"paddingOuter":0.367},"axis":null},"y":{"datum":5.81,"type":"quantitative"},"y2":{"datum":5.765}}},
{"data":{"values":[{}]},"mark":{"type":"text","text":"***","fontSize":8,"baseline":"bottom"},"encoding":{"x":{"datum":0.5,"type":"quantitative","scale":{"domain":[0,1]},"axis":null},"y":{"datum":5.81,"type":"quantitative"}}}
],
"resolve":{"scale":{"x":"independent"}}},
{"width":148,"height":160,"title":{"text":"AL359541.1"},"data":{"name":"pairs"},
"transform":[{"filter":{"field":"g","equal":"AL359541.1"}},{"fold":["Normal","Tumor"],"as":["grp","value"]}],
"encoding":{"y":{"field":"value","type":"quantitative","scale":{"domain":[0.86,5.2],"nice":false,"zero":false},"axis":{"title":"Relative expression level","values":[1,2,3,4,5],"labelFontSize":7,"titleFontSize":9.5,"titlePadding":2,"labelPadding":1,"tickSize":3}}},
"layer":[
{"transform":[{"filter":{"field":"grp","equal":"Normal"}},{"density":"value","as":["value","density"]}],"mark":{"type":"area","orient":"horizontal","color":"#2C62AD"},"encoding":{"x":{"field":"density","type":"quantitative","stack":null,"scale":{"range":[24,12],"zero":true,"nice":false},"axis":null}}},
{"transform":[{"filter":{"field":"grp","equal":"Tumor"}},{"density":"value","as":["value","density"]}],"mark":{"type":"area","orient":"horizontal","color":"#E4171E"},"encoding":{"x":{"field":"density","type":"quantitative","stack":null,"scale":{"range":[123.5,140],"zero":true,"nice":false},"axis":null}}},
{"mark":{"type":"rule","color":"#111","strokeWidth":0.6},"encoding":{"x":{"field":"grp","type":"nominal","scale":{"domain":["Normal","Tumor"],"paddingInner":0.5,"paddingOuter":0.367},"axis":null},"y":{"aggregate":"min","field":"value","type":"quantitative"},"y2":{"aggregate":"max","field":"value"}}},
{"mark":{"type":"bar","stroke":"#111","strokeWidth":0.7},"encoding":{"x":{"field":"grp","type":"nominal","scale":{"domain":["Normal","Tumor"],"paddingInner":0.5,"paddingOuter":0.367},"axis":{"title":null,"labelExpr":"datum.label + '(N=24)'","labelAngle":0,"labelFontSize":7,"tickSize":3,"labelPadding":1}},"y":{"aggregate":"q1","field":"value","type":"quantitative"},"y2":{"aggregate":"q3","field":"value"},"color":{"field":"grp","type":"nominal","scale":{"domain":["Normal","Tumor"],"range":["#2C62AD","#E4171E"]},"legend":null}}},
{"mark":{"type":"tick","color":"#111","thickness":1.6,"size":33},"encoding":{"x":{"field":"grp","type":"nominal","scale":{"domain":["Normal","Tumor"],"paddingInner":0.5,"paddingOuter":0.367},"axis":null},"y":{"aggregate":"median","field":"value","type":"quantitative"}}},
{"mark":{"type":"line","color":"#111","strokeWidth":0.7},"encoding":{"x":{"field":"grp","type":"nominal","scale":{"domain":["Normal","Tumor"],"paddingInner":0.5,"paddingOuter":0.367},"axis":null},"detail":{"field":"id","type":"nominal"}}},
{"mark":{"type":"circle","size":16,"opacity":1},"encoding":{"x":{"field":"grp","type":"nominal","scale":{"domain":["Normal","Tumor"],"paddingInner":0.5,"paddingOuter":0.367},"axis":null},"color":{"field":"grp","type":"nominal","scale":{"domain":["Normal","Tumor"],"range":["#2C62AD","#E4171E"]},"legend":null}}},
{"data":{"values":[{}]},"mark":{"type":"rule","color":"#111","strokeWidth":0.6},"encoding":{"x":{"datum":"Normal","type":"nominal","scale":{"domain":["Normal","Tumor"],"paddingInner":0.5,"paddingOuter":0.367},"axis":null},"x2":{"datum":"Tumor"},"y":{"datum":4.91,"type":"quantitative"}}},
{"data":{"values":[{"k":"Normal"},{"k":"Tumor"}]},"mark":{"type":"rule","color":"#111","strokeWidth":0.6},"encoding":{"x":{"field":"k","type":"nominal","scale":{"domain":["Normal","Tumor"],"paddingInner":0.5,"paddingOuter":0.367},"axis":null},"y":{"datum":4.91,"type":"quantitative"},"y2":{"datum":4.845}}},
{"data":{"values":[{}]},"mark":{"type":"text","text":"***","fontSize":8,"baseline":"bottom"},"encoding":{"x":{"datum":0.5,"type":"quantitative","scale":{"domain":[0,1]},"axis":null},"y":{"datum":4.91,"type":"quantitative"}}}
],
"resolve":{"scale":{"x":"independent"}}},
{"width":148,"height":160,"title":{"text":"AC004943.2"},"data":{"name":"pairs"},
"transform":[{"filter":{"field":"g","equal":"AC004943.2"}},{"fold":["Normal","Tumor"],"as":["grp","value"]}],
"encoding":{"y":{"field":"value","type":"quantitative","scale":{"domain":[0.88,4.71],"nice":false,"zero":false},"axis":{"title":"Relative expression level","values":[1,2,3,4],"labelFontSize":7,"titleFontSize":9.5,"titlePadding":2,"labelPadding":1,"tickSize":3}}},
"layer":[
{"transform":[{"filter":{"field":"grp","equal":"Normal"}},{"density":"value","as":["value","density"]}],"mark":{"type":"area","orient":"horizontal","color":"#2C62AD"},"encoding":{"x":{"field":"density","type":"quantitative","stack":null,"scale":{"range":[24,12],"zero":true,"nice":false},"axis":null}}},
{"transform":[{"filter":{"field":"grp","equal":"Tumor"}},{"density":"value","as":["value","density"]}],"mark":{"type":"area","orient":"horizontal","color":"#E4171E"},"encoding":{"x":{"field":"density","type":"quantitative","stack":null,"scale":{"range":[123.5,140],"zero":true,"nice":false},"axis":null}}},
{"mark":{"type":"rule","color":"#111","strokeWidth":0.6},"encoding":{"x":{"field":"grp","type":"nominal","scale":{"domain":["Normal","Tumor"],"paddingInner":0.5,"paddingOuter":0.367},"axis":null},"y":{"aggregate":"min","field":"value","type":"quantitative"},"y2":{"aggregate":"max","field":"value"}}},
{"mark":{"type":"bar","stroke":"#111","strokeWidth":0.7},"encoding":{"x":{"field":"grp","type":"nominal","scale":{"domain":["Normal","Tumor"],"paddingInner":0.5,"paddingOuter":0.367},"axis":{"title":null,"labelExpr":"datum.label + '(N=24)'","labelAngle":0,"labelFontSize":7,"tickSize":3,"labelPadding":1}},"y":{"aggregate":"q1","field":"value","type":"quantitative"},"y2":{"aggregate":"q3","field":"value"},"color":{"field":"grp","type":"nominal","scale":{"domain":["Normal","Tumor"],"range":["#2C62AD","#E4171E"]},"legend":null}}},
{"mark":{"type":"tick","color":"#111","thickness":1.6,"size":33},"encoding":{"x":{"field":"grp","type":"nominal","scale":{"domain":["Normal","Tumor"],"paddingInner":0.5,"paddingOuter":0.367},"axis":null},"y":{"aggregate":"median","field":"value","type":"quantitative"}}},
{"mark":{"type":"line","color":"#111","strokeWidth":0.7},"encoding":{"x":{"field":"grp","type":"nominal","scale":{"domain":["Normal","Tumor"],"paddingInner":0.5,"paddingOuter":0.367},"axis":null},"detail":{"field":"id","type":"nominal"}}},
{"mark":{"type":"circle","size":16,"opacity":1},"encoding":{"x":{"field":"grp","type":"nominal","scale":{"domain":["Normal","Tumor"],"paddingInner":0.5,"paddingOuter":0.367},"axis":null},"color":{"field":"grp","type":"nominal","scale":{"domain":["Normal","Tumor"],"range":["#2C62AD","#E4171E"]},"legend":null}}},
{"data":{"values":[{}]},"mark":{"type":"rule","color":"#111","strokeWidth":0.6},"encoding":{"x":{"datum":"Normal","type":"nominal","scale":{"domain":["Normal","Tumor"],"paddingInner":0.5,"paddingOuter":0.367},"axis":null},"x2":{"datum":"Tumor"},"y":{"datum":4.46,"type":"quantitative"}}},
{"data":{"values":[{"k":"Normal"},{"k":"Tumor"}]},"mark":{"type":"rule","color":"#111","strokeWidth":0.6},"encoding":{"x":{"field":"k","type":"nominal","scale":{"domain":["Normal","Tumor"],"paddingInner":0.5,"paddingOuter":0.367},"axis":null},"y":{"datum":4.46,"type":"quantitative"},"y2":{"datum":4.40}}},
{"data":{"values":[{}]},"mark":{"type":"text","text":"***","fontSize":8,"baseline":"bottom"},"encoding":{"x":{"datum":0.5,"type":"quantitative","scale":{"domain":[0,1]},"axis":null},"y":{"datum":4.46,"type":"quantitative"}}}
],
"resolve":{"scale":{"x":"independent"}}},
{"width":148,"height":160,"title":{"text":"SOX21−AS1"},"data":{"name":"pairs"},
"transform":[{"filter":{"field":"g","equal":"SOX21-AS1"}},{"fold":["Normal","Tumor"],"as":["grp","value"]}],
"encoding":{"y":{"field":"value","type":"quantitative","scale":{"domain":[2.69,5.78],"nice":false,"zero":false},"axis":{"title":"Relative expression level","values":[3,4,5],"labelFontSize":7,"titleFontSize":9.5,"titlePadding":2,"labelPadding":1,"tickSize":3}}},
"layer":[
{"transform":[{"filter":{"field":"grp","equal":"Normal"}},{"density":"value","as":["value","density"]}],"mark":{"type":"area","orient":"horizontal","color":"#2C62AD"},"encoding":{"x":{"field":"density","type":"quantitative","stack":null,"scale":{"range":[24,12],"zero":true,"nice":false},"axis":null}}},
{"transform":[{"filter":{"field":"grp","equal":"Tumor"}},{"density":"value","as":["value","density"]}],"mark":{"type":"area","orient":"horizontal","color":"#E4171E"},"encoding":{"x":{"field":"density","type":"quantitative","stack":null,"scale":{"range":[123.5,140],"zero":true,"nice":false},"axis":null}}},
{"mark":{"type":"rule","color":"#111","strokeWidth":0.6},"encoding":{"x":{"field":"grp","type":"nominal","scale":{"domain":["Normal","Tumor"],"paddingInner":0.5,"paddingOuter":0.367},"axis":null},"y":{"aggregate":"min","field":"value","type":"quantitative"},"y2":{"aggregate":"max","field":"value"}}},
{"mark":{"type":"bar","stroke":"#111","strokeWidth":0.7},"encoding":{"x":{"field":"grp","type":"nominal","scale":{"domain":["Normal","Tumor"],"paddingInner":0.5,"paddingOuter":0.367},"axis":{"title":null,"labelExpr":"datum.label + '(N=24)'","labelAngle":0,"labelFontSize":7,"tickSize":3,"labelPadding":1}},"y":{"aggregate":"q1","field":"value","type":"quantitative"},"y2":{"aggregate":"q3","field":"value"},"color":{"field":"grp","type":"nominal","scale":{"domain":["Normal","Tumor"],"range":["#2C62AD","#E4171E"]},"legend":null}}},
{"mark":{"type":"tick","color":"#111","thickness":1.6,"size":33},"encoding":{"x":{"field":"grp","type":"nominal","scale":{"domain":["Normal","Tumor"],"paddingInner":0.5,"paddingOuter":0.367},"axis":null},"y":{"aggregate":"median","field":"value","type":"quantitative"}}},
{"mark":{"type":"line","color":"#111","strokeWidth":0.7},"encoding":{"x":{"field":"grp","type":"nominal","scale":{"domain":["Normal","Tumor"],"paddingInner":0.5,"paddingOuter":0.367},"axis":null},"detail":{"field":"id","type":"nominal"}}},
{"mark":{"type":"circle","size":16,"opacity":1},"encoding":{"x":{"field":"grp","type":"nominal","scale":{"domain":["Normal","Tumor"],"paddingInner":0.5,"paddingOuter":0.367},"axis":null},"color":{"field":"grp","type":"nominal","scale":{"domain":["Normal","Tumor"],"range":["#2C62AD","#E4171E"]},"legend":null}}},
{"data":{"values":[{}]},"mark":{"type":"rule","color":"#111","strokeWidth":0.6},"encoding":{"x":{"datum":"Normal","type":"nominal","scale":{"domain":["Normal","Tumor"],"paddingInner":0.5,"paddingOuter":0.367},"axis":null},"x2":{"datum":"Tumor"},"y":{"datum":5.58,"type":"quantitative"}}},
{"data":{"values":[{"k":"Normal"},{"k":"Tumor"}]},"mark":{"type":"rule","color":"#111","strokeWidth":0.6},"encoding":{"x":{"field":"k","type":"nominal","scale":{"domain":["Normal","Tumor"],"paddingInner":0.5,"paddingOuter":0.367},"axis":null},"y":{"datum":5.58,"type":"quantitative"},"y2":{"datum":5.535}}},
{"data":{"values":[{}]},"mark":{"type":"text","text":"***","fontSize":8,"baseline":"bottom"},"encoding":{"x":{"datum":0.5,"type":"quantitative","scale":{"domain":[0,1]},"axis":null},"y":{"datum":5.58,"type":"quantitative"}}}
],
"resolve":{"scale":{"x":"independent"}}}
]}
]},
{"spacing":0,
"resolve":{"scale":{"color":"independent","stroke":"independent"}},
"vconcat":[
{"spacing":6,
"resolve":{"scale":{"color":"independent"}},
"hconcat":[
{"width":1,"height":1,"data":{"values":[{}]},"mark":{"type":"point","opacity":0},"view":{"stroke":null}},
{"spacing":40,
"resolve":{"scale":{"color":"independent"}},
"hconcat":[
{"title":{"text":"B","anchor":"start","fontSize":22,"offset":2},
"spacing":2,
"resolve":{"legend":{"color":"independent"}},
"vconcat":[
{"width":1,"height":1,"data":{"values":[{}]},"mark":{"type":"point","opacity":0},"view":{"stroke":null}},
{"width":163,"height":124,"title":{"text":"clinical sampls cohort","fontSize":11,"offset":4},"view":{"stroke":null},
"layer":[
{"data":{"name":"km"},"mark":{"type":"line","interpolate":"step-after","strokeWidth":1.2},
"encoding":{"x":{"field":"t","type":"quantitative","scale":{"domain":[-0.1,5.1],"nice":false,"zero":false},"axis":{"title":"Time(years)","values":[0,1,2,3,4,5],"format":"d","labelOverlap":false,"domain":true,"domainColor":"#222","tickColor":"#222","labelColor":"#222","labelFontSize":10,"titleFontSize":10.5,"titlePadding":2,"tickSize":4}},
"y":{"field":"s","type":"quantitative","scale":{"domain":[0.06,1.01],"nice":false,"zero":false},"axis":{"title":"Survival probability","values":[0.25,0.5,0.75,1],"format":".2f","labelOverlap":false,"domain":true,"domainColor":"#222","tickColor":"#222","labelColor":"#222","labelFontSize":10,"titleFontSize":11,"tickSize":4}},
"color":{"field":"risk","type":"nominal","scale":{"domain":["Low","High"],"range":["#3A6FC0","#F2303B"]},"legend":{"title":"riskScore","orient":"top-right","symbolType":"stroke","symbolStrokeWidth":1.5,"symbolSize":120,"labelFontSize":10,"titleFontSize":10,"rowPadding":1,"offset":0,"padding":0,"titlePadding":2}}}},
{"data":{"name":"kmc"},"mark":{"type":"point","shape":"M-1,0H1M0,-1V1","size":30,"strokeWidth":1.2,"filled":false,"opacity":1},"encoding":{"x":{"field":"t","type":"quantitative","axis":{"title":"Time(years)","values":[0,1,2,3,4,5],"format":"d","labelOverlap":false,"domain":true,"domainColor":"#222","tickColor":"#222","labelColor":"#222","labelFontSize":10,"titleFontSize":10.5,"titlePadding":2,"tickSize":4}},"y":{"field":"s","type":"quantitative","axis":{"title":"Survival probability","values":[0.25,0.5,0.75,1],"format":".2f","labelOverlap":false,"domain":true,"domainColor":"#222","tickColor":"#222","labelColor":"#222","labelFontSize":10,"titleFontSize":11,"tickSize":4}},"color":{"field":"risk","type":"nominal"}}},
{"data":{"values":[{}]},"mark":{"type":"text","text":"HR = 3.29 (1.21 − 8.93)","align":"left","baseline":"middle","fontSize":10,"color":"#222"},"encoding":{"x":{"datum":-0.2,"type":"quantitative","axis":{"title":"Time(years)","values":[0,1,2,3,4,5],"format":"d","labelOverlap":false,"domain":true,"domainColor":"#222","tickColor":"#222","labelColor":"#222","labelFontSize":10,"titleFontSize":10.5,"titlePadding":2,"tickSize":4}},"y":{"datum":0.27,"type":"quantitative","axis":{"title":"Survival probability","values":[0.25,0.5,0.75,1],"format":".2f","labelOverlap":false,"domain":true,"domainColor":"#222","tickColor":"#222","labelColor":"#222","labelFontSize":10,"titleFontSize":11,"tickSize":4}}}},
{"data":{"values":[{}]},"mark":{"type":"text","text":"P","align":"left","baseline":"middle","fontSize":10,"fontStyle":"italic","color":"#222"},"encoding":{"x":{"datum":-0.2,"type":"quantitative","axis":{"title":"Time(years)","values":[0,1,2,3,4,5],"format":"d","labelOverlap":false,"domain":true,"domainColor":"#222","tickColor":"#222","labelColor":"#222","labelFontSize":10,"titleFontSize":10.5,"titlePadding":2,"tickSize":4}},"y":{"datum":0.125,"type":"quantitative","axis":{"title":"Survival probability","values":[0.25,0.5,0.75,1],"format":".2f","labelOverlap":false,"domain":true,"domainColor":"#222","tickColor":"#222","labelColor":"#222","labelFontSize":10,"titleFontSize":11,"tickSize":4}}}},
{"data":{"values":[{}]},"mark":{"type":"text","text":"= 0.020","align":"left","baseline":"middle","fontSize":10,"color":"#222"},"encoding":{"x":{"datum":0.06,"type":"quantitative","axis":{"title":"Time(years)","values":[0,1,2,3,4,5],"format":"d","labelOverlap":false,"domain":true,"domainColor":"#222","tickColor":"#222","labelColor":"#222","labelFontSize":10,"titleFontSize":10.5,"titlePadding":2,"tickSize":4}},"y":{"datum":0.125,"type":"quantitative","axis":{"title":"Survival probability","values":[0.25,0.5,0.75,1],"format":".2f","labelOverlap":false,"domain":true,"domainColor":"#222","tickColor":"#222","labelColor":"#222","labelFontSize":10,"titleFontSize":11,"tickSize":4}}}}
]},
{"width":163,"height":34,"data":{"name":"risk"},"mark":{"type":"text","fontSize":9},
"encoding":{"x":{"field":"t","type":"quantitative","scale":{"domain":[-0.27,5.2],"nice":false,"zero":false},"axis":null},
"y":{"field":"risk","type":"nominal","sort":["Low","High"],"scale":{"domain":["Low","High"]},"axis":{"title":null,"labelFontSize":11,"tickSize":4,"tickColor":"#222","labelColor":{"condition":{"test":"datum.value == 'Low'","value":"#3A6FC0"},"value":"#F2303B"}}},
"text":{"field":"n","type":"quantitative"},
"color":{"field":"risk","type":"nominal","scale":{"domain":["Low","High"],"range":["#3A6FC0","#F2303B"]},"legend":null}}}
]},
{"width":174,"height":186,"title":{"text":"C","anchor":"start","fontSize":22,"offset":2},
"layer":[
{"data":{"values":[{}]},"mark":{"type":"rule","strokeDash":[4,3],"color":"#8C8C8C","strokeWidth":1},"encoding":{"x":{"datum":0,"type":"quantitative","axis":{"title":"1−Specificity (FPR)","values":[0,0.2,0.4,0.6,0.8,1],"format":".1f","labelOverlap":false,"labelFontSize":10,"titleFontSize":11.5,"tickSize":4,"labelColor":"#222","titlePadding":3}},"y":{"datum":0,"type":"quantitative","axis":{"title":"Sensitivity (TPR)","values":[0,0.2,0.4,0.6,0.8,1],"format":".1f","labelOverlap":false,"labelFontSize":10,"titleFontSize":11.5,"tickSize":4,"labelColor":"#222","titlePadding":3}},"x2":{"datum":1},"y2":{"datum":1}}},
{"data":{"name":"roc"},"mark":{"type":"line","strokeWidth":1.3},
"encoding":{"x":{"field":"fpr","type":"quantitative","scale":{"domain":[-0.015,1.005],"nice":false},"axis":{"title":"1−Specificity (FPR)","values":[0,0.2,0.4,0.6,0.8,1],"format":".1f","labelOverlap":false,"labelFontSize":10,"titleFontSize":11.5,"tickSize":4,"labelColor":"#222","titlePadding":3}},
"y":{"field":"tpr","type":"quantitative","scale":{"domain":[-0.005,1.008],"nice":false},"axis":{"title":"Sensitivity (TPR)","values":[0,0.2,0.4,0.6,0.8,1],"format":".1f","labelOverlap":false,"labelFontSize":10,"titleFontSize":11.5,"tickSize":4,"labelColor":"#222","titlePadding":3}},
"order":{"field":"k","type":"quantitative"},
"color":{"field":"curve","type":"nominal","scale":{"domain":["1−year (AUC = 0.713)","3−year (AUC = 0.692)","5−year (AUC = 0.647)"],"range":["#4472C4","#F0262F","#3AAA8C"]},"legend":{"title":"riskScore","orient":"bottom-right","symbolType":"stroke","symbolStrokeWidth":1.5,"symbolSize":110,"labelFontSize":10,"titleFontSize":10,"rowPadding":0,"offset":2,"padding":2,"titlePadding":2,"labelLimit":300}}}}
]},
{"spacing":10,
"resolve":{"scale":{"color":"independent"}},
"hconcat":[
{"width":159,"height":186,"title":{"text":"D","anchor":"start","fontSize":22,"offset":2},
"layer":[
{"data":{"values":[{}]},"mark":{"type":"rule","strokeDash":[5,4],"color":"#8C8C8C","strokeWidth":1},"encoding":{"y":{"datum":0.5,"type":"quantitative","scale":{"domain":[-0.02,1.02],"nice":false},"axis":{"orient":"right","title":"riskScore","labels":false,"ticks":false,"domain":false,"grid":false,"titleFontSize":10,"titlePadding":8}}}},
{"data":{"name":"auc"},"mark":{"type":"line","color":"#F0262F","strokeWidth":1.2,"point":{"filled":true,"size":22,"color":"#F0262F"}},
"encoding":{"x":{"field":"t","type":"quantitative","scale":{"domain":[0.94,4.06],"nice":false},"axis":{"title":"Time (year)","values":[1,1.5,2,2.5,3,3.5,4],"labelExpr":"datum.value % 1 == 0 ? format(datum.value, 'd') : ''","grid":true,"gridColor":{"condition":{"test":"datum.value % 1 != 0","value":"#F3F3F3"},"value":"#E6E6E6"},"tickOpacity":{"condition":{"test":"datum.value % 1 != 0","value":0},"value":1},"labelFontSize":10,"titleFontSize":11.5,"tickSize":4,"labelColor":"#222"}},
"y":{"field":"auc","type":"quantitative","scale":{"domain":[-0.02,1.02],"nice":false},"axis":{"title":"AUC","values":[0,0.1,0.2,0.3,0.4,0.5,0.6,0.7,0.8,0.9,1],"format":".1f","labelExpr":"round(datum.value*10) % 2 == 0 ? datum.label : ''","grid":true,"gridColor":{"condition":{"test":"round(datum.value*10) % 2 != 0","value":"#F3F3F3"},"value":"#E6E6E6"},"tickOpacity":{"condition":{"test":"round(datum.value*10) % 2 != 0","value":0},"value":1},"labelFontSize":10,"titleFontSize":11.5,"tickSize":4,"labelColor":"#222"}}}}
],
"resolve":{"scale":{"y":"independent"}}},
{"width":290,"height":190,"title":{"text":"E","anchor":"start","fontSize":22,"offset":2},"data":{"name":"dca"},
"mark":{"type":"line","strokeWidth":1.1},
"encoding":{"x":{"field":"x","type":"quantitative","scale":{"domain":[-0.03,1.027],"nice":false},"axis":{"title":"Threshold Probability","values":[0,0.2,0.4,0.6,0.8,1],"format":".1f","labelFontSize":7.5,"titleFontSize":11,"tickSize":4,"titlePadding":3}},
"y":{"field":"y","type":"quantitative","scale":{"domain":[-0.054,0.556],"nice":false,"zero":false},"axis":{"title":"Net Benefit","values":[0,0.1,0.2,0.3,0.4,0.5],"format":".1f","labelFontSize":7.5,"titleFontSize":11,"tickSize":4}},
"color":{"field":"model","type":"nominal","scale":{"domain":["riskScore","All","None"],"range":["#4472C4","#F5222D","#33A889"]},"legend":{"title":"3−year","orient":"top-right","symbolType":"stroke","symbolStrokeWidth":1.5,"symbolSize":100,"labelFontSize":10.5,"titleFontSize":10.5,"rowPadding":0,"offset":4,"padding":0}}}}
]}
]}
]},
{"spacing":0,
"hconcat":[
{"width":1,"height":1,"data":{"values":[{}]},"mark":{"type":"point","opacity":0},"view":{"stroke":null}},
{"title":{"text":"F","anchor":"start","fontSize":22,"offset":0},
"spacing":18,
"hconcat":[
{"width":130,"height":120,"title":{"text":"AL590666.2","offset":4},"view":{"stroke":null},"data":{"name":"cells"},
"transform":[{"filter":{"field":"g","equal":"AL590666.2"}}],
"encoding":{"x":{"field":"cell","type":"nominal","scale":{"domain":["NHA","U87","U251","T98G"],"paddingInner":0.16,"paddingOuter":0.28,"align":1},"axis":{"title":null,"labelAngle":0,"labelFontSize":10,"domain":true,"domainColor":"#222","tickColor":"#222","labelColor":"#222","tickSize":4,"labelPadding":2}}},
"layer":[
{"mark":{"type":"bar","fill":"white","strokeWidth":2},"encoding":{"y":{"aggregate":"mean","field":"v","type":"quantitative","scale":{"domain":[0,2.5],"nice":false},"axis":{"title":"Relative expression level","values":[0,0.5,1,1.5,2,2.5],"format":".1f","labelOverlap":false,"domain":true,"domainColor":"#222","tickColor":"#222","labelColor":"#222","labelFontSize":9.5,"titleFontSize":10,"tickSize":4,"titlePadding":3}},"stroke":{"field":"cell","type":"nominal","scale":{"domain":["NHA","U87","U251","T98G"],"range":["#5BC3DA","#EB7259","#25AC8C","#5A6CA6"]},"legend":null}}},
{"mark":{"type":"rule","strokeWidth":1.4},"encoding":{"y":{"aggregate":"min","field":"v","type":"quantitative","axis":{"title":"Relative expression level","values":[0,0.5,1,1.5,2,2.5],"format":".1f","labelOverlap":false,"domain":true,"domainColor":"#222","tickColor":"#222","labelColor":"#222","labelFontSize":9.5,"titleFontSize":10,"tickSize":4,"titlePadding":3}},"y2":{"aggregate":"max","field":"v"},"color":{"field":"cell","type":"nominal","scale":{"domain":["NHA","U87","U251","T98G"],"range":["#5BC3DA","#EB7259","#25AC8C","#5A6CA6"]},"legend":null}}},
{"mark":{"type":"tick","thickness":1.4,"size":12},"encoding":{"y":{"aggregate":"min","field":"v","type":"quantitative","axis":{"title":"Relative expression level","values":[0,0.5,1,1.5,2,2.5],"format":".1f","labelOverlap":false,"domain":true,"domainColor":"#222","tickColor":"#222","labelColor":"#222","labelFontSize":9.5,"titleFontSize":10,"tickSize":4,"titlePadding":3}},"color":{"field":"cell","type":"nominal","legend":null}}},
{"mark":{"type":"tick","thickness":1.4,"size":12},"encoding":{"y":{"aggregate":"max","field":"v","type":"quantitative","axis":{"title":"Relative expression level","values":[0,0.5,1,1.5,2,2.5],"format":".1f","labelOverlap":false,"domain":true,"domainColor":"#222","tickColor":"#222","labelColor":"#222","labelFontSize":9.5,"titleFontSize":10,"tickSize":4,"titlePadding":3}},"color":{"field":"cell","type":"nominal","legend":null}}},
{"mark":{"type":"circle","size":9,"opacity":1},"encoding":{"y":{"field":"v","type":"quantitative","axis":{"title":"Relative expression level","values":[0,0.5,1,1.5,2,2.5],"format":".1f","labelOverlap":false,"domain":true,"domainColor":"#222","tickColor":"#222","labelColor":"#222","labelFontSize":9.5,"titleFontSize":10,"tickSize":4,"titlePadding":3}},"color":{"field":"cell","type":"nominal","legend":null}}},
{"data":{"values":[{}]},"mark":{"type":"rule","color":"#333","strokeWidth":1},"encoding":{"x":{"datum":"NHA","type":"nominal"},"y":{"datum":1.12,"type":"quantitative","axis":{"title":"Relative expression level","values":[0,0.5,1,1.5,2,2.5],"format":".1f","labelOverlap":false,"domain":true,"domainColor":"#222","tickColor":"#222","labelColor":"#222","labelFontSize":9.5,"titleFontSize":10,"tickSize":4,"titlePadding":3}},"y2":{"datum":2.68}}},
{"data":{"values":[{}]},"mark":{"type":"rule","color":"#333","strokeWidth":1},"encoding":{"x":{"datum":"NHA","type":"nominal"},"x2":{"datum":"U251"},"y":{"datum":2.68,"type":"quantitative","axis":{"title":"Relative expression level","values":[0,0.5,1,1.5,2,2.5],"format":".1f","labelOverlap":false,"domain":true,"domainColor":"#222","tickColor":"#222","labelColor":"#222","labelFontSize":9.5,"titleFontSize":10,"tickSize":4,"titlePadding":3}}}},
{"data":{"values":[{}]},"mark":{"type":"rule","color":"#333","strokeWidth":1},"encoding":{"x":{"datum":"U251","type":"nominal"},"y":{"datum":2.31,"type":"quantitative","axis":{"title":"Relative expression level","values":[0,0.5,1,1.5,2,2.5],"format":".1f","labelOverlap":false,"domain":true,"domainColor":"#222","tickColor":"#222","labelColor":"#222","labelFontSize":9.5,"titleFontSize":10,"tickSize":4,"titlePadding":3}},"y2":{"datum":2.68}}},
{"data":{"values":[{}]},"mark":{"type":"rule","color":"#333","strokeWidth":1},"encoding":{"x":{"datum":"U87","type":"nominal"},"x2":{"datum":"T98G"},"y":{"datum":2.31,"type":"quantitative","axis":{"title":"Relative expression level","values":[0,0.5,1,1.5,2,2.5],"format":".1f","labelOverlap":false,"domain":true,"domainColor":"#222","tickColor":"#222","labelColor":"#222","labelFontSize":9.5,"titleFontSize":10,"tickSize":4,"titlePadding":3}}}},
{"data":{"values":[{}]},"mark":{"type":"text","text":"***","fontSize":8,"baseline":"bottom","dy":-1},"encoding":{"x":{"datum":"U87","type":"nominal"},"y":{"datum":2.68,"type":"quantitative","axis":{"title":"Relative expression level","values":[0,0.5,1,1.5,2,2.5],"format":".1f","labelOverlap":false,"domain":true,"domainColor":"#222","tickColor":"#222","labelColor":"#222","labelFontSize":9.5,"titleFontSize":10,"tickSize":4,"titlePadding":3}}}}
]},
{"width":130,"height":120,"title":{"text":"POLR2J4","offset":7},"view":{"stroke":null},"data":{"name":"cells"},
"transform":[{"filter":{"field":"g","equal":"POLR2J4"}}],
"encoding":{"x":{"field":"cell","type":"nominal","scale":{"domain":["NHA","U87","U251","T98G"],"paddingInner":0.16,"paddingOuter":0.28,"align":1},"axis":{"title":null,"labelAngle":0,"labelFontSize":10,"domain":true,"domainColor":"#222","tickColor":"#222","labelColor":"#222","tickSize":4,"labelPadding":2}}},
"layer":[
{"mark":{"type":"bar","fill":"white","strokeWidth":2},"encoding":{"y":{"aggregate":"mean","field":"v","type":"quantitative","scale":{"domain":[0,3],"nice":false},"axis":{"title":"Relative expression level","values":[0,1,2,3],"format":"d","labelOverlap":false,"domain":true,"domainColor":"#222","tickColor":"#222","labelColor":"#222","labelFontSize":9.5,"titleFontSize":10,"tickSize":4,"titlePadding":3}},"stroke":{"field":"cell","type":"nominal","scale":{"domain":["NHA","U87","U251","T98G"],"range":["#5BC3DA","#EB7259","#25AC8C","#5A6CA6"]},"legend":null}}},
{"mark":{"type":"rule","strokeWidth":1.4},"encoding":{"y":{"aggregate":"min","field":"v","type":"quantitative","axis":{"title":"Relative expression level","values":[0,1,2,3],"format":"d","labelOverlap":false,"domain":true,"domainColor":"#222","tickColor":"#222","labelColor":"#222","labelFontSize":9.5,"titleFontSize":10,"tickSize":4,"titlePadding":3}},"y2":{"aggregate":"max","field":"v"},"color":{"field":"cell","type":"nominal","scale":{"domain":["NHA","U87","U251","T98G"],"range":["#5BC3DA","#EB7259","#25AC8C","#5A6CA6"]},"legend":null}}},
{"mark":{"type":"tick","thickness":1.4,"size":12},"encoding":{"y":{"aggregate":"min","field":"v","type":"quantitative","axis":{"title":"Relative expression level","values":[0,1,2,3],"format":"d","labelOverlap":false,"domain":true,"domainColor":"#222","tickColor":"#222","labelColor":"#222","labelFontSize":9.5,"titleFontSize":10,"tickSize":4,"titlePadding":3}},"color":{"field":"cell","type":"nominal","legend":null}}},
{"mark":{"type":"tick","thickness":1.4,"size":12},"encoding":{"y":{"aggregate":"max","field":"v","type":"quantitative","axis":{"title":"Relative expression level","values":[0,1,2,3],"format":"d","labelOverlap":false,"domain":true,"domainColor":"#222","tickColor":"#222","labelColor":"#222","labelFontSize":9.5,"titleFontSize":10,"tickSize":4,"titlePadding":3}},"color":{"field":"cell","type":"nominal","legend":null}}},
{"mark":{"type":"circle","size":9,"opacity":1},"encoding":{"y":{"field":"v","type":"quantitative","axis":{"title":"Relative expression level","values":[0,1,2,3],"format":"d","labelOverlap":false,"domain":true,"domainColor":"#222","tickColor":"#222","labelColor":"#222","labelFontSize":9.5,"titleFontSize":10,"tickSize":4,"titlePadding":3}},"color":{"field":"cell","type":"nominal","legend":null}}},
{"data":{"values":[{}]},"mark":{"type":"rule","color":"#333","strokeWidth":1},"encoding":{"x":{"datum":"NHA","type":"nominal"},"y":{"datum":1.25,"type":"quantitative","axis":{"title":"Relative expression level","values":[0,1,2,3],"format":"d","labelOverlap":false,"domain":true,"domainColor":"#222","tickColor":"#222","labelColor":"#222","labelFontSize":9.5,"titleFontSize":10,"tickSize":4,"titlePadding":3}},"y2":{"datum":3.14}}},
{"data":{"values":[{}]},"mark":{"type":"rule","color":"#333","strokeWidth":1},"encoding":{"x":{"datum":"NHA","type":"nominal"},"x2":{"datum":"U251"},"y":{"datum":3.14,"type":"quantitative","axis":{"title":"Relative expression level","values":[0,1,2,3],"format":"d","labelOverlap":false,"domain":true,"domainColor":"#222","tickColor":"#222","labelColor":"#222","labelFontSize":9.5,"titleFontSize":10,"tickSize":4,"titlePadding":3}}}},
{"data":{"values":[{}]},"mark":{"type":"rule","color":"#333","strokeWidth":1},"encoding":{"x":{"datum":"U251","type":"nominal"},"y":{"datum":2.96,"type":"quantitative","axis":{"title":"Relative expression level","values":[0,1,2,3],"format":"d","labelOverlap":false,"domain":true,"domainColor":"#222","tickColor":"#222","labelColor":"#222","labelFontSize":9.5,"titleFontSize":10,"tickSize":4,"titlePadding":3}},"y2":{"datum":3.14}}},
{"data":{"values":[{}]},"mark":{"type":"rule","color":"#333","strokeWidth":1},"encoding":{"x":{"datum":"U87","type":"nominal"},"x2":{"datum":"T98G"},"y":{"datum":2.96,"type":"quantitative","axis":{"title":"Relative expression level","values":[0,1,2,3],"format":"d","labelOverlap":false,"domain":true,"domainColor":"#222","tickColor":"#222","labelColor":"#222","labelFontSize":9.5,"titleFontSize":10,"tickSize":4,"titlePadding":3}}}},
{"data":{"values":[{}]},"mark":{"type":"text","text":"***","fontSize":8,"baseline":"bottom","dy":-1},"encoding":{"x":{"datum":"U87","type":"nominal"},"y":{"datum":3.14,"type":"quantitative","axis":{"title":"Relative expression level","values":[0,1,2,3],"format":"d","labelOverlap":false,"domain":true,"domainColor":"#222","tickColor":"#222","labelColor":"#222","labelFontSize":9.5,"titleFontSize":10,"tickSize":4,"titlePadding":3}}}}
]},
{"width":130,"height":120,"title":{"text":"SNHG16","offset":4},"view":{"stroke":null},"data":{"name":"cells"},
"transform":[{"filter":{"field":"g","equal":"SNHG16"}}],
"encoding":{"x":{"field":"cell","type":"nominal","scale":{"domain":["NHA","U87","U251","T98G"],"paddingInner":0.16,"paddingOuter":0.28,"align":1},"axis":{"title":null,"labelAngle":0,"labelFontSize":10,"domain":true,"domainColor":"#222","tickColor":"#222","labelColor":"#222","tickSize":4,"labelPadding":2}}},
"layer":[
{"mark":{"type":"bar","fill":"white","strokeWidth":2},"encoding":{"y":{"aggregate":"mean","field":"v","type":"quantitative","scale":{"domain":[0,2.5],"nice":false},"axis":{"title":"Relative expression level","values":[0,0.5,1,1.5,2,2.5],"format":".1f","labelOverlap":false,"domain":true,"domainColor":"#222","tickColor":"#222","labelColor":"#222","labelFontSize":9.5,"titleFontSize":10,"tickSize":4,"titlePadding":3}},"stroke":{"field":"cell","type":"nominal","scale":{"domain":["NHA","U87","U251","T98G"],"range":["#5BC3DA","#EB7259","#25AC8C","#5A6CA6"]},"legend":null}}},
{"mark":{"type":"rule","strokeWidth":1.4},"encoding":{"y":{"aggregate":"min","field":"v","type":"quantitative","axis":{"title":"Relative expression level","values":[0,0.5,1,1.5,2,2.5],"format":".1f","labelOverlap":false,"domain":true,"domainColor":"#222","tickColor":"#222","labelColor":"#222","labelFontSize":9.5,"titleFontSize":10,"tickSize":4,"titlePadding":3}},"y2":{"aggregate":"max","field":"v"},"color":{"field":"cell","type":"nominal","scale":{"domain":["NHA","U87","U251","T98G"],"range":["#5BC3DA","#EB7259","#25AC8C","#5A6CA6"]},"legend":null}}},
{"mark":{"type":"tick","thickness":1.4,"size":12},"encoding":{"y":{"aggregate":"min","field":"v","type":"quantitative","axis":{"title":"Relative expression level","values":[0,0.5,1,1.5,2,2.5],"format":".1f","labelOverlap":false,"domain":true,"domainColor":"#222","tickColor":"#222","labelColor":"#222","labelFontSize":9.5,"titleFontSize":10,"tickSize":4,"titlePadding":3}},"color":{"field":"cell","type":"nominal","legend":null}}},
{"mark":{"type":"tick","thickness":1.4,"size":12},"encoding":{"y":{"aggregate":"max","field":"v","type":"quantitative","axis":{"title":"Relative expression level","values":[0,0.5,1,1.5,2,2.5],"format":".1f","labelOverlap":false,"domain":true,"domainColor":"#222","tickColor":"#222","labelColor":"#222","labelFontSize":9.5,"titleFontSize":10,"tickSize":4,"titlePadding":3}},"color":{"field":"cell","type":"nominal","legend":null}}},
{"mark":{"type":"circle","size":9,"opacity":1},"encoding":{"y":{"field":"v","type":"quantitative","axis":{"title":"Relative expression level","values":[0,0.5,1,1.5,2,2.5],"format":".1f","labelOverlap":false,"domain":true,"domainColor":"#222","tickColor":"#222","labelColor":"#222","labelFontSize":9.5,"titleFontSize":10,"tickSize":4,"titlePadding":3}},"color":{"field":"cell","type":"nominal","legend":null}}},
{"data":{"values":[{}]},"mark":{"type":"rule","color":"#333","strokeWidth":1},"encoding":{"x":{"datum":"NHA","type":"nominal"},"y":{"datum":1.13,"type":"quantitative","axis":{"title":"Relative expression level","values":[0,0.5,1,1.5,2,2.5],"format":".1f","labelOverlap":false,"domain":true,"domainColor":"#222","tickColor":"#222","labelColor":"#222","labelFontSize":9.5,"titleFontSize":10,"tickSize":4,"titlePadding":3}},"y2":{"datum":2.68}}},
{"data":{"values":[{}]},"mark":{"type":"rule","color":"#333","strokeWidth":1},"encoding":{"x":{"datum":"NHA","type":"nominal"},"x2":{"datum":"U251"},"y":{"datum":2.68,"type":"quantitative","axis":{"title":"Relative expression level","values":[0,0.5,1,1.5,2,2.5],"format":".1f","labelOverlap":false,"domain":true,"domainColor":"#222","tickColor":"#222","labelColor":"#222","labelFontSize":9.5,"titleFontSize":10,"tickSize":4,"titlePadding":3}}}},
{"data":{"values":[{}]},"mark":{"type":"rule","color":"#333","strokeWidth":1},"encoding":{"x":{"datum":"U251","type":"nominal"},"y":{"datum":2.55,"type":"quantitative","axis":{"title":"Relative expression level","values":[0,0.5,1,1.5,2,2.5],"format":".1f","labelOverlap":false,"domain":true,"domainColor":"#222","tickColor":"#222","labelColor":"#222","labelFontSize":9.5,"titleFontSize":10,"tickSize":4,"titlePadding":3}},"y2":{"datum":2.68}}},
{"data":{"values":[{}]},"mark":{"type":"rule","color":"#333","strokeWidth":1},"encoding":{"x":{"datum":"U87","type":"nominal"},"x2":{"datum":"T98G"},"y":{"datum":2.55,"type":"quantitative","axis":{"title":"Relative expression level","values":[0,0.5,1,1.5,2,2.5],"format":".1f","labelOverlap":false,"domain":true,"domainColor":"#222","tickColor":"#222","labelColor":"#222","labelFontSize":9.5,"titleFontSize":10,"tickSize":4,"titlePadding":3}}}},
{"data":{"values":[{}]},"mark":{"type":"text","text":"***","fontSize":8,"baseline":"bottom","dy":-1},"encoding":{"x":{"datum":"U87","type":"nominal"},"y":{"datum":2.68,"type":"quantitative","axis":{"title":"Relative expression level","values":[0,0.5,1,1.5,2,2.5],"format":".1f","labelOverlap":false,"domain":true,"domainColor":"#222","tickColor":"#222","labelColor":"#222","labelFontSize":9.5,"titleFontSize":10,"tickSize":4,"titlePadding":3}}}}
]},
{"width":130,"height":120,"title":{"text":"AL359541.1","offset":8},"view":{"stroke":null},"data":{"name":"cells"},
"transform":[{"filter":{"field":"g","equal":"AL359541.1"}}],
"encoding":{"x":{"field":"cell","type":"nominal","scale":{"domain":["NHA","U87","U251","T98G"],"paddingInner":0.16,"paddingOuter":0.28,"align":1},"axis":{"title":null,"labelAngle":0,"labelFontSize":10,"domain":true,"domainColor":"#222","tickColor":"#222","labelColor":"#222","tickSize":4,"labelPadding":2}}},
"layer":[
{"mark":{"type":"bar","fill":"white","strokeWidth":2},"encoding":{"y":{"aggregate":"mean","field":"v","type":"quantitative","scale":{"domain":[0,3],"nice":false},"axis":{"title":"Relative expression level","values":[0,1,2,3],"format":"d","labelOverlap":false,"domain":true,"domainColor":"#222","tickColor":"#222","labelColor":"#222","labelFontSize":9.5,"titleFontSize":10,"tickSize":4,"titlePadding":3}},"stroke":{"field":"cell","type":"nominal","scale":{"domain":["NHA","U87","U251","T98G"],"range":["#5BC3DA","#EB7259","#25AC8C","#5A6CA6"]},"legend":null}}},
{"mark":{"type":"rule","strokeWidth":1.4},"encoding":{"y":{"aggregate":"min","field":"v","type":"quantitative","axis":{"title":"Relative expression level","values":[0,1,2,3],"format":"d","labelOverlap":false,"domain":true,"domainColor":"#222","tickColor":"#222","labelColor":"#222","labelFontSize":9.5,"titleFontSize":10,"tickSize":4,"titlePadding":3}},"y2":{"aggregate":"max","field":"v"},"color":{"field":"cell","type":"nominal","scale":{"domain":["NHA","U87","U251","T98G"],"range":["#5BC3DA","#EB7259","#25AC8C","#5A6CA6"]},"legend":null}}},
{"mark":{"type":"tick","thickness":1.4,"size":12},"encoding":{"y":{"aggregate":"min","field":"v","type":"quantitative","axis":{"title":"Relative expression level","values":[0,1,2,3],"format":"d","labelOverlap":false,"domain":true,"domainColor":"#222","tickColor":"#222","labelColor":"#222","labelFontSize":9.5,"titleFontSize":10,"tickSize":4,"titlePadding":3}},"color":{"field":"cell","type":"nominal","legend":null}}},
{"mark":{"type":"tick","thickness":1.4,"size":12},"encoding":{"y":{"aggregate":"max","field":"v","type":"quantitative","axis":{"title":"Relative expression level","values":[0,1,2,3],"format":"d","labelOverlap":false,"domain":true,"domainColor":"#222","tickColor":"#222","labelColor":"#222","labelFontSize":9.5,"titleFontSize":10,"tickSize":4,"titlePadding":3}},"color":{"field":"cell","type":"nominal","legend":null}}},
{"mark":{"type":"circle","size":9,"opacity":1},"encoding":{"y":{"field":"v","type":"quantitative","axis":{"title":"Relative expression level","values":[0,1,2,3],"format":"d","labelOverlap":false,"domain":true,"domainColor":"#222","tickColor":"#222","labelColor":"#222","labelFontSize":9.5,"titleFontSize":10,"tickSize":4,"titlePadding":3}},"color":{"field":"cell","type":"nominal","legend":null}}},
{"data":{"values":[{}]},"mark":{"type":"rule","color":"#333","strokeWidth":1},"encoding":{"x":{"datum":"NHA","type":"nominal"},"y":{"datum":1.25,"type":"quantitative","axis":{"title":"Relative expression level","values":[0,1,2,3],"format":"d","labelOverlap":false,"domain":true,"domainColor":"#222","tickColor":"#222","labelColor":"#222","labelFontSize":9.5,"titleFontSize":10,"tickSize":4,"titlePadding":3}},"y2":{"datum":3.11}}},
{"data":{"values":[{}]},"mark":{"type":"rule","color":"#333","strokeWidth":1},"encoding":{"x":{"datum":"NHA","type":"nominal"},"x2":{"datum":"U251"},"y":{"datum":3.11,"type":"quantitative","axis":{"title":"Relative expression level","values":[0,1,2,3],"format":"d","labelOverlap":false,"domain":true,"domainColor":"#222","tickColor":"#222","labelColor":"#222","labelFontSize":9.5,"titleFontSize":10,"tickSize":4,"titlePadding":3}}}},
{"data":{"values":[{}]},"mark":{"type":"rule","color":"#333","strokeWidth":1},"encoding":{"x":{"datum":"U251","type":"nominal"},"y":{"datum":2.95,"type":"quantitative","axis":{"title":"Relative expression level","values":[0,1,2,3],"format":"d","labelOverlap":false,"domain":true,"domainColor":"#222","tickColor":"#222","labelColor":"#222","labelFontSize":9.5,"titleFontSize":10,"tickSize":4,"titlePadding":3}},"y2":{"datum":3.11}}},
{"data":{"values":[{}]},"mark":{"type":"rule","color":"#333","strokeWidth":1},"encoding":{"x":{"datum":"U87","type":"nominal"},"x2":{"datum":"T98G"},"y":{"datum":2.95,"type":"quantitative","axis":{"title":"Relative expression level","values":[0,1,2,3],"format":"d","labelOverlap":false,"domain":true,"domainColor":"#222","tickColor":"#222","labelColor":"#222","labelFontSize":9.5,"titleFontSize":10,"tickSize":4,"titlePadding":3}}}},
{"data":{"values":[{}]},"mark":{"type":"text","text":"***","fontSize":8,"baseline":"bottom","dy":-1},"encoding":{"x":{"datum":"U87","type":"nominal"},"y":{"datum":3.11,"type":"quantitative","axis":{"title":"Relative expression level","values":[0,1,2,3],"format":"d","labelOverlap":false,"domain":true,"domainColor":"#222","tickColor":"#222","labelColor":"#222","labelFontSize":9.5,"titleFontSize":10,"tickSize":4,"titlePadding":3}}}}
]},
{"width":130,"height":120,"title":{"text":"AC004943.2","offset":8},"view":{"stroke":null},"data":{"name":"cells"},
"transform":[{"filter":{"field":"g","equal":"AC004943.2"}}],
"encoding":{"x":{"field":"cell","type":"nominal","scale":{"domain":["NHA","U87","U251","T98G"],"paddingInner":0.16,"paddingOuter":0.28,"align":1},"axis":{"title":null,"labelAngle":0,"labelFontSize":10,"domain":true,"domainColor":"#222","tickColor":"#222","labelColor":"#222","tickSize":4,"labelPadding":2}}},
"layer":[
{"mark":{"type":"bar","fill":"white","strokeWidth":2},"encoding":{"y":{"aggregate":"mean","field":"v","type":"quantitative","scale":{"domain":[0,3],"nice":false},"axis":{"title":"Relative expression level","values":[0,1,2,3],"format":"d","labelOverlap":false,"domain":true,"domainColor":"#222","tickColor":"#222","labelColor":"#222","labelFontSize":9.5,"titleFontSize":10,"tickSize":4,"titlePadding":3}},"stroke":{"field":"cell","type":"nominal","scale":{"domain":["NHA","U87","U251","T98G"],"range":["#5BC3DA","#EB7259","#25AC8C","#5A6CA6"]},"legend":null}}},
{"mark":{"type":"rule","strokeWidth":1.4},"encoding":{"y":{"aggregate":"min","field":"v","type":"quantitative","axis":{"title":"Relative expression level","values":[0,1,2,3],"format":"d","labelOverlap":false,"domain":true,"domainColor":"#222","tickColor":"#222","labelColor":"#222","labelFontSize":9.5,"titleFontSize":10,"tickSize":4,"titlePadding":3}},"y2":{"aggregate":"max","field":"v"},"color":{"field":"cell","type":"nominal","scale":{"domain":["NHA","U87","U251","T98G"],"range":["#5BC3DA","#EB7259","#25AC8C","#5A6CA6"]},"legend":null}}},
{"mark":{"type":"tick","thickness":1.4,"size":12},"encoding":{"y":{"aggregate":"min","field":"v","type":"quantitative","axis":{"title":"Relative expression level","values":[0,1,2,3],"format":"d","labelOverlap":false,"domain":true,"domainColor":"#222","tickColor":"#222","labelColor":"#222","labelFontSize":9.5,"titleFontSize":10,"tickSize":4,"titlePadding":3}},"color":{"field":"cell","type":"nominal","legend":null}}},
{"mark":{"type":"tick","thickness":1.4,"size":12},"encoding":{"y":{"aggregate":"max","field":"v","type":"quantitative","axis":{"title":"Relative expression level","values":[0,1,2,3],"format":"d","labelOverlap":false,"domain":true,"domainColor":"#222","tickColor":"#222","labelColor":"#222","labelFontSize":9.5,"titleFontSize":10,"tickSize":4,"titlePadding":3}},"color":{"field":"cell","type":"nominal","legend":null}}},
{"mark":{"type":"circle","size":9,"opacity":1},"encoding":{"y":{"field":"v","type":"quantitative","axis":{"title":"Relative expression level","values":[0,1,2,3],"format":"d","labelOverlap":false,"domain":true,"domainColor":"#222","tickColor":"#222","labelColor":"#222","labelFontSize":9.5,"titleFontSize":10,"tickSize":4,"titlePadding":3}},"color":{"field":"cell","type":"nominal","legend":null}}},
{"data":{"values":[{}]},"mark":{"type":"rule","color":"#333","strokeWidth":1},"encoding":{"x":{"datum":"NHA","type":"nominal"},"y":{"datum":1.25,"type":"quantitative","axis":{"title":"Relative expression level","values":[0,1,2,3],"format":"d","labelOverlap":false,"domain":true,"domainColor":"#222","tickColor":"#222","labelColor":"#222","labelFontSize":9.5,"titleFontSize":10,"tickSize":4,"titlePadding":3}},"y2":{"datum":3.11}}},
{"data":{"values":[{}]},"mark":{"type":"rule","color":"#333","strokeWidth":1},"encoding":{"x":{"datum":"NHA","type":"nominal"},"x2":{"datum":"U251"},"y":{"datum":3.11,"type":"quantitative","axis":{"title":"Relative expression level","values":[0,1,2,3],"format":"d","labelOverlap":false,"domain":true,"domainColor":"#222","tickColor":"#222","labelColor":"#222","labelFontSize":9.5,"titleFontSize":10,"tickSize":4,"titlePadding":3}}}},
{"data":{"values":[{}]},"mark":{"type":"rule","color":"#333","strokeWidth":1},"encoding":{"x":{"datum":"U251","type":"nominal"},"y":{"datum":2.94,"type":"quantitative","axis":{"title":"Relative expression level","values":[0,1,2,3],"format":"d","labelOverlap":false,"domain":true,"domainColor":"#222","tickColor":"#222","labelColor":"#222","labelFontSize":9.5,"titleFontSize":10,"tickSize":4,"titlePadding":3}},"y2":{"datum":3.11}}},
{"data":{"values":[{}]},"mark":{"type":"rule","color":"#333","strokeWidth":1},"encoding":{"x":{"datum":"U87","type":"nominal"},"x2":{"datum":"T98G"},"y":{"datum":2.94,"type":"quantitative","axis":{"title":"Relative expression level","values":[0,1,2,3],"format":"d","labelOverlap":false,"domain":true,"domainColor":"#222","tickColor":"#222","labelColor":"#222","labelFontSize":9.5,"titleFontSize":10,"tickSize":4,"titlePadding":3}}}},
{"data":{"values":[{}]},"mark":{"type":"text","text":"***","fontSize":8,"baseline":"bottom","dy":-1},"encoding":{"x":{"datum":"U87","type":"nominal"},"y":{"datum":3.11,"type":"quantitative","axis":{"title":"Relative expression level","values":[0,1,2,3],"format":"d","labelOverlap":false,"domain":true,"domainColor":"#222","tickColor":"#222","labelColor":"#222","labelFontSize":9.5,"titleFontSize":10,"tickSize":4,"titlePadding":3}}}}
]},
{"width":130,"height":120,"title":{"text":"SOX21-AS1","offset":18},"view":{"stroke":null},"data":{"name":"cells"},
"transform":[{"filter":{"field":"g","equal":"SOX21-AS1"}}],
"encoding":{"x":{"field":"cell","type":"nominal","scale":{"domain":["NHA","U87","U251","T98G"],"paddingInner":0.16,"paddingOuter":0.28,"align":1},"axis":{"title":null,"labelAngle":0,"labelFontSize":10,"domain":true,"domainColor":"#222","tickColor":"#222","labelColor":"#222","tickSize":4,"labelPadding":2}}},
"layer":[
{"mark":{"type":"bar","fill":"white","strokeWidth":2},"encoding":{"y":{"aggregate":"mean","field":"v","type":"quantitative","scale":{"domain":[0,4],"nice":false},"axis":{"title":"Relative expression level","values":[0,1,2,3,4],"format":"d","labelOverlap":false,"domain":true,"domainColor":"#222","tickColor":"#222","labelColor":"#222","labelFontSize":9.5,"titleFontSize":10,"tickSize":4,"titlePadding":3}},"stroke":{"field":"cell","type":"nominal","scale":{"domain":["NHA","U87","U251","T98G"],"range":["#5BC3DA","#EB7259","#25AC8C","#5A6CA6"]},"legend":null}}},
{"mark":{"type":"rule","strokeWidth":1.4},"encoding":{"y":{"aggregate":"min","field":"v","type":"quantitative","axis":{"title":"Relative expression level","values":[0,1,2,3,4],"format":"d","labelOverlap":false,"domain":true,"domainColor":"#222","tickColor":"#222","labelColor":"#222","labelFontSize":9.5,"titleFontSize":10,"tickSize":4,"titlePadding":3}},"y2":{"aggregate":"max","field":"v"},"color":{"field":"cell","type":"nominal","scale":{"domain":["NHA","U87","U251","T98G"],"range":["#5BC3DA","#EB7259","#25AC8C","#5A6CA6"]},"legend":null}}},
{"mark":{"type":"tick","thickness":1.4,"size":12},"encoding":{"y":{"aggregate":"min","field":"v","type":"quantitative","axis":{"title":"Relative expression level","values":[0,1,2,3,4],"format":"d","labelOverlap":false,"domain":true,"domainColor":"#222","tickColor":"#222","labelColor":"#222","labelFontSize":9.5,"titleFontSize":10,"tickSize":4,"titlePadding":3}},"color":{"field":"cell","type":"nominal","legend":null}}},
{"mark":{"type":"tick","thickness":1.4,"size":12},"encoding":{"y":{"aggregate":"max","field":"v","type":"quantitative","axis":{"title":"Relative expression level","values":[0,1,2,3,4],"format":"d","labelOverlap":false,"domain":true,"domainColor":"#222","tickColor":"#222","labelColor":"#222","labelFontSize":9.5,"titleFontSize":10,"tickSize":4,"titlePadding":3}},"color":{"field":"cell","type":"nominal","legend":null}}},
{"mark":{"type":"circle","size":9,"opacity":1},"encoding":{"y":{"field":"v","type":"quantitative","axis":{"title":"Relative expression level","values":[0,1,2,3,4],"format":"d","labelOverlap":false,"domain":true,"domainColor":"#222","tickColor":"#222","labelColor":"#222","labelFontSize":9.5,"titleFontSize":10,"tickSize":4,"titlePadding":3}},"color":{"field":"cell","type":"nominal","legend":null}}},
{"data":{"values":[{}]},"mark":{"type":"rule","color":"#333","strokeWidth":1},"encoding":{"x":{"datum":"NHA","type":"nominal"},"y":{"datum":1.7,"type":"quantitative","axis":{"title":"Relative expression level","values":[0,1,2,3,4],"format":"d","labelOverlap":false,"domain":true,"domainColor":"#222","tickColor":"#222","labelColor":"#222","labelFontSize":9.5,"titleFontSize":10,"tickSize":4,"titlePadding":3}},"y2":{"datum":3.83}}},
{"data":{"values":[{}]},"mark":{"type":"rule","color":"#333","strokeWidth":1},"encoding":{"x":{"datum":"NHA","type":"nominal"},"x2":{"datum":"U251"},"y":{"datum":3.83,"type":"quantitative","axis":{"title":"Relative expression level","values":[0,1,2,3,4],"format":"d","labelOverlap":false,"domain":true,"domainColor":"#222","tickColor":"#222","labelColor":"#222","labelFontSize":9.5,"titleFontSize":10,"tickSize":4,"titlePadding":3}}}},
{"data":{"values":[{}]},"mark":{"type":"rule","color":"#333","strokeWidth":1},"encoding":{"x":{"datum":"U251","type":"nominal"},"y":{"datum":3.5,"type":"quantitative","axis":{"title":"Relative expression level","values":[0,1,2,3,4],"format":"d","labelOverlap":false,"domain":true,"domainColor":"#222","tickColor":"#222","labelColor":"#222","labelFontSize":9.5,"titleFontSize":10,"tickSize":4,"titlePadding":3}},"y2":{"datum":3.83}}},
{"data":{"values":[{}]},"mark":{"type":"rule","color":"#333","strokeWidth":1},"encoding":{"x":{"datum":"U87","type":"nominal"},"x2":{"datum":"T98G"},"y":{"datum":3.5,"type":"quantitative","axis":{"title":"Relative expression level","values":[0,1,2,3,4],"format":"d","labelOverlap":false,"domain":true,"domainColor":"#222","tickColor":"#222","labelColor":"#222","labelFontSize":9.5,"titleFontSize":10,"tickSize":4,"titlePadding":3}}}},
{"data":{"values":[{}]},"mark":{"type":"text","text":"***","fontSize":8,"baseline":"bottom","dy":-1},"encoding":{"x":{"datum":"U87","type":"nominal"},"y":{"datum":3.83,"type":"quantitative","axis":{"title":"Relative expression level","values":[0,1,2,3,4],"format":"d","labelOverlap":false,"domain":true,"domainColor":"#222","tickColor":"#222","labelColor":"#222","labelFontSize":9.5,"titleFontSize":10,"tickSize":4,"titlePadding":3}}}}
]}
]}
]}
]}
]
}
